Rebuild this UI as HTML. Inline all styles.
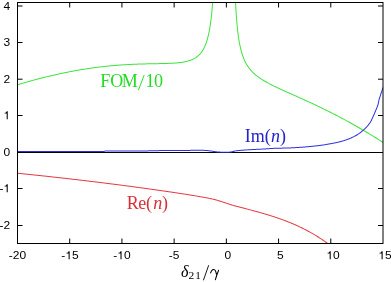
<!DOCTYPE html>
<html><head><meta charset="utf-8"><style>
html,body{margin:0;padding:0;background:#fff;}
svg{display:block;will-change:transform;}
.n{font-family:"Liberation Sans",sans-serif;font-size:11.4px;fill:#000;}
.s{font-family:"Liberation Serif",serif;font-size:18px;}
</style></head><body>
<svg width="391" height="282" viewBox="0 0 391 282">
<defs><clipPath id="c"><rect x="17.5" y="2.5" width="365.5" height="241"/></clipPath></defs>
<rect width="391" height="282" fill="#fff"/>
<g clip-path="url(#c)">
<path d="M16.15,85.73 L16.62,85.59 L17.10,85.44 L17.58,85.30 L18.06,85.15 L18.54,85.01 L19.02,84.86 L19.49,84.72 L19.97,84.58 L20.45,84.43 L20.93,84.29 L21.41,84.15 L21.89,84.01 L22.37,83.87 L22.85,83.73 L23.33,83.59 L23.81,83.45 L24.29,83.31 L24.77,83.17 L25.25,83.03 L25.73,82.89 L26.21,82.76 L26.69,82.62 L27.17,82.48 L27.65,82.35 L28.13,82.21 L28.61,82.07 L29.09,81.94 L29.57,81.80 L30.05,81.67 L30.53,81.53 L31.02,81.40 L31.50,81.27 L31.98,81.14 L32.46,81.00 L32.94,80.87 L33.42,80.74 L33.91,80.61 L34.39,80.48 L34.87,80.35 L35.35,80.22 L35.84,80.09 L36.32,79.96 L36.80,79.83 L37.28,79.70 L37.77,79.58 L38.25,79.45 L38.73,79.32 L39.22,79.20 L39.70,79.07 L40.18,78.95 L40.67,78.82 L41.15,78.70 L41.63,78.57 L42.12,78.45 L42.60,78.33 L43.09,78.20 L43.57,78.08 L44.06,77.96 L44.54,77.84 L45.03,77.72 L45.51,77.60 L45.99,77.48 L46.48,77.36 L46.97,77.24 L47.45,77.12 L47.94,77.00 L48.42,76.89 L48.91,76.77 L49.39,76.65 L49.88,76.54 L50.36,76.42 L50.85,76.31 L51.34,76.19 L51.82,76.08 L52.31,75.96 L52.80,75.85 L53.28,75.74 L53.77,75.63 L54.26,75.51 L54.74,75.40 L55.23,75.29 L55.72,75.18 L56.20,75.07 L56.69,74.96 L57.18,74.86 L57.67,74.75 L58.16,74.64 L58.64,74.53 L59.13,74.43 L59.62,74.32 L60.11,74.22 L60.60,74.11 L61.08,74.01 L61.57,73.90 L62.06,73.80 L62.55,73.70 L63.04,73.59 L63.53,73.49 L64.02,73.39 L64.51,73.29 L65.00,73.19 L65.48,73.09 L65.97,72.99 L66.46,72.89 L66.95,72.79 L67.44,72.70 L67.93,72.60 L68.42,72.50 L68.91,72.41 L69.40,72.31 L69.89,72.22 L70.38,72.12 L70.88,72.03 L71.37,71.93 L71.86,71.84 L72.35,71.75 L72.84,71.66 L73.33,71.57 L73.82,71.47 L74.31,71.38 L74.80,71.30 L75.29,71.21 L75.79,71.12 L76.28,71.03 L76.77,70.94 L77.26,70.86 L77.75,70.77 L78.25,70.68 L78.74,70.60 L79.23,70.52 L79.72,70.43 L80.21,70.35 L80.71,70.27 L81.20,70.18 L81.69,70.10 L82.19,70.02 L82.68,69.94 L83.17,69.86 L83.66,69.78 L84.16,69.70 L84.65,69.62 L85.14,69.55 L85.64,69.47 L86.13,69.39 L86.62,69.32 L87.12,69.24 L87.61,69.17 L88.11,69.09 L88.60,69.02 L89.09,68.95 L89.59,68.87 L90.08,68.80 L90.58,68.73 L91.07,68.66 L91.57,68.59 L92.06,68.52 L92.55,68.45 L93.05,68.38 L93.54,68.32 L94.04,68.25 L94.53,68.18 L95.03,68.12 L95.52,68.05 L96.02,67.99 L96.51,67.92 L97.01,67.86 L97.51,67.80 L98.00,67.73 L98.50,67.67 L98.99,67.61 L99.49,67.55 L99.98,67.49 L100.48,67.43 L100.98,67.37 L101.47,67.31 L101.97,67.26 L102.46,67.20 L102.96,67.14 L103.46,67.09 L103.95,67.03 L104.45,66.98 L104.95,66.92 L105.44,66.87 L105.94,66.82 L106.44,66.76 L106.93,66.71 L107.43,66.66 L107.93,66.61 L108.42,66.56 L108.92,66.51 L109.42,66.46 L109.91,66.42 L110.41,66.37 L110.91,66.32 L111.40,66.27 L111.90,66.23 L112.40,66.18 L112.90,66.14 L113.39,66.09 L113.89,66.05 L114.39,66.01 L114.89,65.97 L115.38,65.93 L115.88,65.88 L116.38,65.84 L116.88,65.80 L117.38,65.76 L117.87,65.73 L118.37,65.69 L118.87,65.65 L119.37,65.61 L119.87,65.58 L120.36,65.54 L120.86,65.51 L121.36,65.47 L121.86,65.44 L122.36,65.40 L122.86,65.37 L123.35,65.34 L123.85,65.31 L124.35,65.27 L124.85,65.24 L125.35,65.21 L125.85,65.18 L126.35,65.15 L126.84,65.12 L127.34,65.10 L127.84,65.07 L128.34,65.04 L128.84,65.02 L129.34,64.99 L129.84,64.96 L130.34,64.94 L130.83,64.91 L131.33,64.89 L131.83,64.87 L132.33,64.84 L132.83,64.82 L133.33,64.80 L133.83,64.78 L134.33,64.76 L134.83,64.74 L135.33,64.72 L135.82,64.70 L136.32,64.68 L136.82,64.66 L137.32,64.64 L137.82,64.62 L138.32,64.60 L138.82,64.59 L139.32,64.57 L139.82,64.55 L140.32,64.54 L140.82,64.52 L141.32,64.51 L141.82,64.49 L142.32,64.48 L142.81,64.46 L143.31,64.45 L143.81,64.44 L144.31,64.42 L144.81,64.41 L145.31,64.40 L145.81,64.39 L146.31,64.37 L146.81,64.36 L147.31,64.35 L147.81,64.34 L148.31,64.33 L148.81,64.32 L149.31,64.31 L149.81,64.30 L150.31,64.29 L150.81,64.28 L151.31,64.27 L151.81,64.26 L152.31,64.25 L152.81,64.24 L153.31,64.23 L153.81,64.22 L154.31,64.22 L154.81,64.21 L155.31,64.20 L155.81,64.19 L156.31,64.18 L156.81,64.17 L157.31,64.16 L157.81,64.15 L158.31,64.14 L158.81,64.13 L159.31,64.12 L159.81,64.11 L160.31,64.10 L160.81,64.09 L161.31,64.08 L161.81,64.07 L162.31,64.06 L162.81,64.05 L163.31,64.04 L163.81,64.03 L164.31,64.01 L164.81,64.00 L165.31,63.98 L165.81,63.97 L166.31,63.95 L166.81,63.94 L167.31,63.92 L167.81,63.90 L168.31,63.89 L168.81,63.87 L169.31,63.85 L169.81,63.83 L170.32,63.80 L170.82,63.78 L171.32,63.76 L171.82,63.73 L172.32,63.70 L172.82,63.67 L173.32,63.64 L173.82,63.61 L174.32,63.58 L174.82,63.54 L175.32,63.51 L175.82,63.47 L176.32,63.43 L176.82,63.38 L177.32,63.34 L177.82,63.29 L178.32,63.24 L178.82,63.19 L179.32,63.13 L179.82,63.07 L180.32,63.01 L180.82,62.95 L181.32,62.88 L181.82,62.81 L182.32,62.73 L182.81,62.65 L183.31,62.57 L183.81,62.48 L184.30,62.39 L184.80,62.30 L185.29,62.19 L185.79,62.09 L186.28,61.98 L186.77,61.86 L187.26,61.74 L187.75,61.61 L188.24,61.47 L188.73,61.33 L189.21,61.18 L189.70,61.03 L190.18,60.86 L190.65,60.69 L191.13,60.52 L191.60,60.33 L192.07,60.13 L192.54,59.93 L193.00,59.72 L193.46,59.50 L193.92,59.27 L194.37,59.03 L194.82,58.78 L195.25,58.52 L195.69,58.25 L196.12,57.97 L196.54,57.69 L196.96,57.39 L197.37,57.08 L197.77,56.77 L198.16,56.44 L198.55,56.11 L198.93,55.76 L199.30,55.41 L199.67,55.05 L200.02,54.68 L200.37,54.31 L200.71,53.93 L201.03,53.53 L201.36,53.14 L201.67,52.73 L201.97,52.33 L202.27,51.91 L202.56,51.49 L202.84,51.07 L203.11,50.64 L203.37,50.20 L203.63,49.76 L203.88,49.32 L204.12,48.88 L204.36,48.43 L204.59,47.97 L204.81,47.52 L205.03,47.06 L205.24,46.60 L205.44,46.14 L205.64,45.67 L205.83,45.20 L206.02,44.73 L206.20,44.26 L206.38,43.79 L206.55,43.32 L206.72,42.84 L206.89,42.36 L207.05,41.89 L207.20,41.41 L207.35,40.92 L207.50,40.44 L207.64,39.96 L207.78,39.48 L207.92,38.99 L208.06,38.51 L208.19,38.02 L208.31,37.53 L208.44,37.05 L208.56,36.56 L208.68,36.07 L208.79,35.58 L208.91,35.09 L209.02,34.60 L209.13,34.11 L209.23,33.62 L209.34,33.13 L209.44,32.64 L209.54,32.14 L209.63,31.65 L209.73,31.16 L209.82,30.67 L209.91,30.17 L210.00,29.68 L210.09,29.18 L210.18,28.69 L210.26,28.20 L210.34,27.70 L210.42,27.21 L210.50,26.71 L210.58,26.22 L210.66,25.72 L210.73,25.22 L210.81,24.73 L210.88,24.23 L210.95,23.74 L211.02,23.24 L211.09,22.74 L211.16,22.25 L211.22,21.75 L211.29,21.25 L211.35,20.76 L211.41,20.26 L211.48,19.76 L211.54,19.26 L211.60,18.77 L211.66,18.27 L211.71,17.77 L211.77,17.27 L211.83,16.78 L211.88,16.28 L211.94,15.78 L211.99,15.28 L212.04,14.78 L212.09,14.29 L212.15,13.79 L212.20,13.29 L212.25,12.79 L212.29,12.29 L212.34,11.79 L212.39,11.30 L212.44,10.80 L212.48,10.30 L212.53,9.80 L212.57,9.30 L212.62,8.80 L212.66,8.30 L212.70,7.81 L212.75,7.31 L212.79,6.81 L212.83,6.31 L212.87,5.81 L212.91,5.31 L212.95,4.81 L212.99,4.31 L213.03,3.81 L213.06,3.32 L213.10,2.82 L213.14,2.32 L213.17,1.82 L213.21,1.32 L213.25,0.82 L213.28,0.32 L213.32,-0.18 L213.35,-0.68 L213.37,-0.97 L212.37,-1.03 L212.35,-0.75 L212.32,-0.25 L212.28,0.25 L212.25,0.75 L212.21,1.25 L212.18,1.75 L212.14,2.24 L212.10,2.74 L212.07,3.24 L212.03,3.74 L211.99,4.24 L211.95,4.73 L211.91,5.23 L211.87,5.73 L211.83,6.23 L211.79,6.73 L211.75,7.22 L211.71,7.72 L211.66,8.22 L211.62,8.72 L211.58,9.21 L211.53,9.71 L211.49,10.21 L211.44,10.71 L211.39,11.20 L211.35,11.70 L211.30,12.20 L211.25,12.69 L211.20,13.19 L211.15,13.69 L211.10,14.18 L211.05,14.68 L211.00,15.18 L210.94,15.67 L210.89,16.17 L210.83,16.66 L210.78,17.16 L210.72,17.66 L210.66,18.15 L210.60,18.65 L210.54,19.14 L210.48,19.64 L210.42,20.13 L210.36,20.63 L210.30,21.12 L210.23,21.62 L210.17,22.11 L210.10,22.61 L210.03,23.10 L209.96,23.60 L209.89,24.09 L209.82,24.58 L209.74,25.08 L209.67,25.57 L209.59,26.06 L209.52,26.55 L209.44,27.05 L209.36,27.54 L209.27,28.03 L209.19,28.52 L209.11,29.01 L209.02,29.50 L208.93,29.99 L208.84,30.48 L208.75,30.97 L208.65,31.46 L208.56,31.95 L208.46,32.44 L208.36,32.92 L208.25,33.41 L208.15,33.90 L208.04,34.38 L207.93,34.87 L207.82,35.35 L207.71,35.84 L207.59,36.32 L207.47,36.80 L207.35,37.28 L207.22,37.77 L207.09,38.25 L206.96,38.72 L206.82,39.20 L206.69,39.68 L206.54,40.15 L206.40,40.63 L206.25,41.10 L206.10,41.57 L205.94,42.04 L205.78,42.51 L205.61,42.98 L205.44,43.44 L205.27,43.91 L205.09,44.37 L204.91,44.83 L204.72,45.28 L204.52,45.74 L204.32,46.19 L204.12,46.64 L203.91,47.09 L203.69,47.53 L203.47,47.97 L203.24,48.40 L203.00,48.84 L202.76,49.27 L202.51,49.69 L202.26,50.11 L202.00,50.52 L201.72,50.93 L201.45,51.34 L201.16,51.74 L200.87,52.13 L200.57,52.52 L200.26,52.90 L199.95,53.27 L199.62,53.64 L199.29,54.00 L198.95,54.35 L198.61,54.69 L198.25,55.03 L197.89,55.36 L197.52,55.68 L197.14,55.99 L196.76,56.29 L196.37,56.58 L195.97,56.87 L195.56,57.14 L195.16,57.41 L194.74,57.66 L194.32,57.91 L193.89,58.15 L193.46,58.38 L193.02,58.60 L192.58,58.81 L192.13,59.02 L191.68,59.21 L191.23,59.40 L190.77,59.58 L190.31,59.75 L189.85,59.92 L189.38,60.08 L188.91,60.23 L188.44,60.37 L187.97,60.51 L187.49,60.64 L187.01,60.77 L186.54,60.89 L186.05,61.00 L185.57,61.11 L185.09,61.21 L184.60,61.31 L184.12,61.41 L183.63,61.50 L183.14,61.58 L182.65,61.67 L182.16,61.74 L181.67,61.82 L181.18,61.89 L180.69,61.96 L180.20,62.02 L179.70,62.08 L179.21,62.14 L178.71,62.19 L178.22,62.24 L177.73,62.29 L177.23,62.34 L176.73,62.39 L176.24,62.43 L175.74,62.47 L175.25,62.51 L174.75,62.55 L174.25,62.58 L173.75,62.61 L173.26,62.65 L172.76,62.67 L172.26,62.70 L171.76,62.73 L171.27,62.76 L170.77,62.78 L170.27,62.80 L169.77,62.83 L169.27,62.85 L168.77,62.87 L168.28,62.89 L167.78,62.91 L167.28,62.92 L166.78,62.94 L166.28,62.96 L165.78,62.97 L165.28,62.99 L164.78,63.00 L164.28,63.01 L163.78,63.03 L163.28,63.04 L162.78,63.05 L162.29,63.06 L161.79,63.07 L161.29,63.08 L160.79,63.09 L160.29,63.10 L159.79,63.11 L159.29,63.12 L158.79,63.13 L158.29,63.14 L157.79,63.15 L157.29,63.16 L156.79,63.17 L156.29,63.18 L155.79,63.19 L155.29,63.20 L154.79,63.21 L154.29,63.22 L153.79,63.22 L153.29,63.23 L152.79,63.24 L152.29,63.25 L151.79,63.26 L151.29,63.27 L150.79,63.28 L150.29,63.29 L149.79,63.30 L149.29,63.31 L148.79,63.32 L148.29,63.33 L147.79,63.34 L147.29,63.35 L146.79,63.36 L146.29,63.38 L145.79,63.39 L145.29,63.40 L144.79,63.41 L144.29,63.42 L143.79,63.44 L143.29,63.45 L142.79,63.46 L142.29,63.48 L141.79,63.49 L141.29,63.51 L140.79,63.52 L140.29,63.54 L139.79,63.55 L139.29,63.57 L138.79,63.59 L138.29,63.60 L137.79,63.62 L137.29,63.64 L136.79,63.66 L136.29,63.68 L135.79,63.70 L135.29,63.72 L134.79,63.74 L134.29,63.76 L133.79,63.78 L133.29,63.80 L132.79,63.82 L132.29,63.84 L131.79,63.87 L131.29,63.89 L130.79,63.92 L130.29,63.94 L129.79,63.96 L129.29,63.99 L128.79,64.02 L128.29,64.04 L127.79,64.07 L127.29,64.10 L126.79,64.13 L126.29,64.16 L125.79,64.18 L125.29,64.21 L124.79,64.24 L124.29,64.28 L123.79,64.31 L123.29,64.34 L122.79,64.37 L122.29,64.40 L121.79,64.44 L121.29,64.47 L120.79,64.51 L120.29,64.54 L119.79,64.58 L119.29,64.62 L118.80,64.65 L118.30,64.69 L117.80,64.73 L117.30,64.77 L116.80,64.81 L116.30,64.85 L115.80,64.89 L115.30,64.93 L114.80,64.97 L114.30,65.01 L113.81,65.06 L113.31,65.10 L112.81,65.14 L112.31,65.19 L111.81,65.23 L111.31,65.28 L110.81,65.32 L110.32,65.37 L109.82,65.42 L109.32,65.47 L108.82,65.52 L108.32,65.57 L107.82,65.62 L107.33,65.67 L106.83,65.72 L106.33,65.77 L105.83,65.82 L105.34,65.87 L104.84,65.93 L104.34,65.98 L103.84,66.04 L103.34,66.09 L102.85,66.15 L102.35,66.21 L101.85,66.26 L101.36,66.32 L100.86,66.38 L100.36,66.44 L99.86,66.50 L99.37,66.56 L98.87,66.62 L98.37,66.68 L97.88,66.74 L97.38,66.80 L96.88,66.87 L96.39,66.93 L95.89,66.99 L95.39,67.06 L94.90,67.12 L94.40,67.19 L93.91,67.26 L93.41,67.32 L92.91,67.39 L92.42,67.46 L91.92,67.53 L91.43,67.60 L90.93,67.67 L90.43,67.74 L89.94,67.81 L89.44,67.88 L88.95,67.96 L88.45,68.03 L87.96,68.10 L87.46,68.18 L86.97,68.25 L86.47,68.33 L85.98,68.40 L85.48,68.48 L84.99,68.56 L84.49,68.64 L84.00,68.71 L83.51,68.79 L83.01,68.87 L82.52,68.95 L82.02,69.03 L81.53,69.11 L81.04,69.20 L80.54,69.28 L80.05,69.36 L79.55,69.45 L79.06,69.53 L78.57,69.61 L78.07,69.70 L77.58,69.79 L77.09,69.87 L76.60,69.96 L76.10,70.05 L75.61,70.13 L75.12,70.22 L74.62,70.31 L74.13,70.40 L73.64,70.49 L73.15,70.58 L72.66,70.67 L72.16,70.77 L71.67,70.86 L71.18,70.95 L70.69,71.04 L70.20,71.14 L69.70,71.23 L69.21,71.33 L68.72,71.42 L68.23,71.52 L67.74,71.62 L67.25,71.71 L66.76,71.81 L66.27,71.91 L65.78,72.01 L65.29,72.11 L64.80,72.21 L64.30,72.31 L63.81,72.41 L63.32,72.51 L62.83,72.61 L62.34,72.72 L61.85,72.82 L61.37,72.92 L60.88,73.03 L60.39,73.13 L59.90,73.24 L59.41,73.34 L58.92,73.45 L58.43,73.56 L57.94,73.66 L57.45,73.77 L56.96,73.88 L56.47,73.99 L55.99,74.10 L55.50,74.21 L55.01,74.32 L54.52,74.43 L54.03,74.54 L53.55,74.65 L53.06,74.76 L52.57,74.88 L52.08,74.99 L51.60,75.10 L51.11,75.22 L50.62,75.33 L50.13,75.45 L49.65,75.56 L49.16,75.68 L48.67,75.80 L48.19,75.91 L47.70,76.03 L47.21,76.15 L46.73,76.27 L46.24,76.39 L45.76,76.51 L45.27,76.63 L44.78,76.75 L44.30,76.87 L43.81,76.99 L43.33,77.11 L42.84,77.23 L42.36,77.36 L41.87,77.48 L41.39,77.60 L40.90,77.73 L40.42,77.85 L39.93,77.98 L39.45,78.10 L38.96,78.23 L38.48,78.35 L38.00,78.48 L37.51,78.61 L37.03,78.74 L36.54,78.87 L36.06,78.99 L35.58,79.12 L35.09,79.25 L34.61,79.38 L34.13,79.51 L33.64,79.64 L33.16,79.77 L32.68,79.91 L32.20,80.04 L31.71,80.17 L31.23,80.30 L30.75,80.44 L30.27,80.57 L29.78,80.71 L29.30,80.84 L28.82,80.98 L28.34,81.11 L27.86,81.25 L27.38,81.38 L26.89,81.52 L26.41,81.66 L25.93,81.79 L25.45,81.93 L24.97,82.07 L24.49,82.21 L24.01,82.35 L23.53,82.49 L23.05,82.63 L22.57,82.77 L22.09,82.91 L21.61,83.05 L21.13,83.19 L20.65,83.33 L20.17,83.48 L19.69,83.62 L19.21,83.76 L18.73,83.91 L18.25,84.05 L17.77,84.19 L17.29,84.34 L16.81,84.48 L16.33,84.63 L15.85,84.77Z" fill="#3ce43c"/>
<path d="M234.87,-0.98 L234.89,-0.48 L234.92,0.02 L234.94,0.52 L234.96,1.02 L234.99,1.52 L235.01,2.02 L235.04,2.52 L235.06,3.02 L235.09,3.52 L235.12,4.02 L235.14,4.52 L235.17,5.02 L235.20,5.52 L235.22,6.02 L235.25,6.52 L235.28,7.02 L235.31,7.52 L235.34,8.02 L235.37,8.52 L235.40,9.02 L235.43,9.52 L235.46,10.01 L235.49,10.51 L235.52,11.01 L235.55,11.51 L235.58,12.01 L235.61,12.51 L235.65,13.01 L235.68,13.51 L235.71,14.01 L235.75,14.51 L235.78,15.01 L235.82,15.51 L235.85,16.01 L235.89,16.51 L235.93,17.01 L235.96,17.50 L236.00,18.00 L236.04,18.50 L236.08,19.00 L236.12,19.50 L236.16,20.00 L236.20,20.50 L236.24,21.00 L236.28,21.50 L236.32,22.00 L236.37,22.49 L236.41,22.99 L236.45,23.49 L236.50,23.99 L236.54,24.49 L236.59,24.99 L236.64,25.49 L236.69,25.98 L236.73,26.48 L236.78,26.98 L236.83,27.48 L236.89,27.98 L236.94,28.48 L236.99,28.97 L237.04,29.47 L237.10,29.97 L237.15,30.47 L237.21,30.97 L237.27,31.46 L237.33,31.96 L237.39,32.46 L237.45,32.96 L237.51,33.45 L237.57,33.95 L237.64,34.45 L237.70,34.94 L237.77,35.44 L237.84,35.94 L237.90,36.43 L237.97,36.93 L238.05,37.43 L238.12,37.92 L238.19,38.42 L238.27,38.91 L238.35,39.41 L238.43,39.91 L238.51,40.40 L238.59,40.90 L238.67,41.39 L238.76,41.88 L238.84,42.38 L238.93,42.87 L239.02,43.37 L239.12,43.86 L239.21,44.35 L239.31,44.85 L239.41,45.34 L239.51,45.83 L239.61,46.32 L239.72,46.81 L239.82,47.30 L239.93,47.79 L240.05,48.28 L240.16,48.77 L240.28,49.26 L240.40,49.75 L240.52,50.24 L240.65,50.72 L240.78,51.21 L240.91,51.69 L241.05,52.18 L241.19,52.66 L241.33,53.15 L241.47,53.63 L241.62,54.11 L241.77,54.59 L241.93,55.07 L242.09,55.55 L242.25,56.02 L242.42,56.50 L242.59,56.97 L242.76,57.45 L242.95,57.92 L243.13,58.39 L243.32,58.86 L243.51,59.32 L243.71,59.79 L243.91,60.25 L244.12,60.71 L244.33,61.17 L244.55,61.63 L244.77,62.08 L245.00,62.53 L245.23,62.98 L245.47,63.43 L245.71,63.87 L245.96,64.31 L246.22,64.75 L246.47,65.18 L246.74,65.62 L247.01,66.04 L247.29,66.47 L247.57,66.89 L247.86,67.30 L248.15,67.72 L248.45,68.13 L248.75,68.53 L249.06,68.94 L249.37,69.33 L249.69,69.72 L250.02,70.11 L250.35,70.50 L250.68,70.88 L251.02,71.26 L251.37,71.63 L251.71,71.99 L252.07,72.36 L252.43,72.71 L252.79,73.07 L253.15,73.42 L253.52,73.76 L253.90,74.10 L254.27,74.44 L254.66,74.77 L255.04,75.10 L255.43,75.42 L255.82,75.74 L256.21,76.06 L256.61,76.37 L257.01,76.68 L257.41,76.98 L257.82,77.28 L258.23,77.58 L258.64,77.87 L259.05,78.16 L259.46,78.45 L259.88,78.73 L260.30,79.01 L260.72,79.29 L261.14,79.56 L261.57,79.83 L261.99,80.10 L262.42,80.36 L262.85,80.63 L263.28,80.89 L263.71,81.14 L264.14,81.40 L264.58,81.65 L265.01,81.90 L265.45,82.15 L265.89,82.40 L266.33,82.64 L266.77,82.89 L267.21,83.13 L267.65,83.37 L268.09,83.60 L268.53,83.84 L268.98,84.07 L269.42,84.31 L269.87,84.54 L270.31,84.77 L270.76,84.99 L271.21,85.22 L271.65,85.45 L272.10,85.67 L272.55,85.89 L273.00,86.12 L273.45,86.34 L273.90,86.56 L274.35,86.78 L274.80,86.99 L275.25,87.21 L275.71,87.43 L276.16,87.64 L276.61,87.86 L277.06,88.07 L277.52,88.29 L277.97,88.50 L278.42,88.71 L278.88,88.92 L279.33,89.13 L279.78,89.34 L280.24,89.55 L280.69,89.76 L281.15,89.97 L281.60,90.18 L282.06,90.39 L282.51,90.59 L282.97,90.80 L283.43,91.01 L283.88,91.22 L284.34,91.42 L284.79,91.63 L285.25,91.83 L285.70,92.04 L286.16,92.24 L286.62,92.45 L287.07,92.65 L287.53,92.86 L287.99,93.06 L288.44,93.27 L288.90,93.47 L289.36,93.68 L289.81,93.88 L290.27,94.08 L290.73,94.29 L291.18,94.49 L291.64,94.70 L292.10,94.90 L292.55,95.10 L293.01,95.31 L293.47,95.51 L293.92,95.71 L294.38,95.92 L294.83,96.12 L295.29,96.33 L295.75,96.53 L296.20,96.73 L296.66,96.94 L297.12,97.14 L297.57,97.35 L298.03,97.55 L298.48,97.76 L298.94,97.96 L299.40,98.17 L299.85,98.37 L300.31,98.58 L300.76,98.78 L301.22,98.99 L301.67,99.19 L302.13,99.40 L302.59,99.61 L303.04,99.81 L303.50,100.02 L303.95,100.22 L304.41,100.43 L304.86,100.64 L305.32,100.85 L305.77,101.05 L306.22,101.26 L306.68,101.47 L307.13,101.68 L307.59,101.89 L308.04,102.10 L308.49,102.30 L308.95,102.51 L309.40,102.72 L309.86,102.93 L310.31,103.14 L310.76,103.35 L311.22,103.56 L311.67,103.78 L312.12,103.99 L312.57,104.20 L313.03,104.41 L313.48,104.62 L313.93,104.83 L314.38,105.05 L314.84,105.26 L315.29,105.47 L315.74,105.69 L316.19,105.90 L316.64,106.12 L317.09,106.33 L317.54,106.55 L317.99,106.76 L318.45,106.98 L318.90,107.19 L319.35,107.41 L319.80,107.62 L320.25,107.84 L320.70,108.06 L321.15,108.28 L321.60,108.49 L322.05,108.71 L322.49,108.93 L322.94,109.15 L323.39,109.37 L323.84,109.59 L324.29,109.81 L324.74,110.03 L325.19,110.25 L325.63,110.47 L326.08,110.69 L326.53,110.92 L326.98,111.14 L327.42,111.36 L327.87,111.58 L328.32,111.81 L328.77,112.03 L329.21,112.25 L329.66,112.48 L330.10,112.70 L330.55,112.93 L331.00,113.15 L331.44,113.38 L331.89,113.61 L332.33,113.83 L332.78,114.06 L333.22,114.29 L333.67,114.51 L334.11,114.74 L334.56,114.97 L335.00,115.20 L335.44,115.43 L335.89,115.66 L336.33,115.89 L336.77,116.12 L337.22,116.35 L337.66,116.58 L338.10,116.81 L338.54,117.04 L338.99,117.28 L339.43,117.51 L339.87,117.74 L340.31,117.98 L340.75,118.21 L341.20,118.44 L341.64,118.68 L342.08,118.91 L342.52,119.15 L342.96,119.39 L343.40,119.62 L343.84,119.86 L344.28,120.09 L344.72,120.33 L345.16,120.57 L345.60,120.81 L346.04,121.05 L346.47,121.29 L346.91,121.52 L347.35,121.76 L347.79,122.00 L348.23,122.24 L348.67,122.48 L349.10,122.73 L349.54,122.97 L349.98,123.21 L350.41,123.45 L350.85,123.69 L351.29,123.94 L351.72,124.18 L352.16,124.43 L352.59,124.67 L353.03,124.91 L353.47,125.16 L353.90,125.40 L354.34,125.65 L354.77,125.90 L355.20,126.14 L355.64,126.39 L356.07,126.64 L356.51,126.88 L356.94,127.13 L357.37,127.38 L357.81,127.63 L358.24,127.88 L358.67,128.13 L359.11,128.38 L359.54,128.63 L359.97,128.88 L360.40,129.13 L360.83,129.38 L361.26,129.63 L361.70,129.89 L362.13,130.14 L362.56,130.39 L362.99,130.65 L363.42,130.90 L363.85,131.15 L364.28,131.41 L364.71,131.66 L365.14,131.92 L365.57,132.17 L366.00,132.43 L366.42,132.69 L366.85,132.94 L367.28,133.20 L367.71,133.46 L368.14,133.72 L368.56,133.97 L368.99,134.23 L369.42,134.49 L369.85,134.75 L370.27,135.01 L370.70,135.27 L371.13,135.53 L371.55,135.79 L371.98,136.05 L372.40,136.32 L372.83,136.58 L373.25,136.84 L373.68,137.10 L374.10,137.37 L374.53,137.63 L374.95,137.89 L375.38,138.16 L375.80,138.42 L376.22,138.69 L376.65,138.95 L377.07,139.22 L377.49,139.48 L377.91,139.75 L378.34,140.02 L378.76,140.28 L379.18,140.55 L379.60,140.82 L380.02,141.09 L380.45,141.36 L380.87,141.63 L381.29,141.90 L381.71,142.16 L382.13,142.43 L382.55,142.71 L382.97,142.98 L383.39,143.25 L383.73,143.47 L384.27,142.63 L383.93,142.41 L383.51,142.14 L383.09,141.86 L382.67,141.59 L382.25,141.32 L381.83,141.05 L381.40,140.78 L380.98,140.51 L380.56,140.24 L380.14,139.98 L379.72,139.71 L379.29,139.44 L378.87,139.17 L378.45,138.91 L378.02,138.64 L377.60,138.37 L377.18,138.11 L376.75,137.84 L376.33,137.57 L375.90,137.31 L375.48,137.04 L375.05,136.78 L374.63,136.52 L374.20,136.25 L373.78,135.99 L373.35,135.73 L372.93,135.46 L372.50,135.20 L372.07,134.94 L371.65,134.68 L371.22,134.42 L370.79,134.16 L370.37,133.90 L369.94,133.64 L369.51,133.38 L369.08,133.12 L368.65,132.86 L368.22,132.60 L367.80,132.34 L367.37,132.09 L366.94,131.83 L366.51,131.57 L366.08,131.32 L365.65,131.06 L365.22,130.80 L364.79,130.55 L364.36,130.29 L363.93,130.04 L363.50,129.78 L363.06,129.53 L362.63,129.28 L362.20,129.02 L361.77,128.77 L361.34,128.52 L360.90,128.27 L360.47,128.02 L360.04,127.76 L359.61,127.51 L359.17,127.26 L358.74,127.01 L358.31,126.76 L357.87,126.51 L357.44,126.27 L357.00,126.02 L356.57,125.77 L356.13,125.52 L355.70,125.27 L355.26,125.03 L354.83,124.78 L354.39,124.53 L353.96,124.29 L353.52,124.04 L353.08,123.80 L352.65,123.55 L352.21,123.31 L351.77,123.06 L351.34,122.82 L350.90,122.58 L350.46,122.33 L350.02,122.09 L349.59,121.85 L349.15,121.61 L348.71,121.37 L348.27,121.13 L347.83,120.89 L347.39,120.65 L346.95,120.41 L346.51,120.17 L346.07,119.93 L345.63,119.69 L345.19,119.45 L344.75,119.21 L344.31,118.98 L343.87,118.74 L343.43,118.50 L342.99,118.27 L342.55,118.03 L342.11,117.80 L341.66,117.56 L341.22,117.33 L340.78,117.09 L340.34,116.86 L339.90,116.63 L339.45,116.39 L339.01,116.16 L338.57,115.93 L338.12,115.70 L337.68,115.46 L337.24,115.23 L336.79,115.00 L336.35,114.77 L335.90,114.54 L335.46,114.31 L335.01,114.08 L334.57,113.85 L334.12,113.62 L333.68,113.40 L333.23,113.17 L332.79,112.94 L332.34,112.71 L331.89,112.49 L331.45,112.26 L331.00,112.04 L330.55,111.81 L330.11,111.59 L329.66,111.36 L329.21,111.14 L328.77,110.91 L328.32,110.69 L327.87,110.46 L327.42,110.24 L326.97,110.02 L326.53,109.80 L326.08,109.58 L325.63,109.35 L325.18,109.13 L324.73,108.91 L324.28,108.69 L323.83,108.47 L323.38,108.25 L322.93,108.03 L322.48,107.81 L322.03,107.59 L321.58,107.38 L321.13,107.16 L320.68,106.94 L320.23,106.72 L319.78,106.51 L319.33,106.29 L318.88,106.07 L318.43,105.86 L317.97,105.64 L317.52,105.43 L317.07,105.21 L316.62,105.00 L316.17,104.78 L315.71,104.57 L315.26,104.36 L314.81,104.14 L314.36,103.93 L313.90,103.72 L313.45,103.50 L313.00,103.29 L312.54,103.08 L312.09,102.87 L311.64,102.66 L311.18,102.45 L310.73,102.24 L310.28,102.03 L309.82,101.82 L309.37,101.61 L308.91,101.40 L308.46,101.19 L308.00,100.98 L307.55,100.77 L307.10,100.56 L306.64,100.35 L306.19,100.14 L305.73,99.94 L305.28,99.73 L304.82,99.52 L304.36,99.31 L303.91,99.11 L303.45,98.90 L303.00,98.69 L302.54,98.49 L302.09,98.28 L301.63,98.08 L301.17,97.87 L300.72,97.66 L300.26,97.46 L299.81,97.25 L299.35,97.05 L298.89,96.84 L298.44,96.64 L297.98,96.43 L297.53,96.23 L297.07,96.03 L296.61,95.82 L296.16,95.62 L295.70,95.41 L295.24,95.21 L294.79,95.01 L294.33,94.80 L293.87,94.60 L293.42,94.39 L292.96,94.19 L292.50,93.99 L292.05,93.78 L291.59,93.58 L291.13,93.37 L290.68,93.17 L290.22,92.97 L289.76,92.76 L289.31,92.56 L288.85,92.35 L288.40,92.15 L287.94,91.95 L287.48,91.74 L287.03,91.54 L286.57,91.33 L286.12,91.13 L285.66,90.92 L285.20,90.72 L284.75,90.51 L284.29,90.30 L283.84,90.10 L283.38,89.89 L282.93,89.68 L282.47,89.48 L282.02,89.27 L281.57,89.06 L281.11,88.85 L280.66,88.64 L280.20,88.44 L279.75,88.23 L279.30,88.02 L278.85,87.80 L278.39,87.59 L277.94,87.38 L277.49,87.17 L277.04,86.95 L276.59,86.74 L276.14,86.53 L275.69,86.31 L275.24,86.09 L274.79,85.88 L274.34,85.66 L273.89,85.44 L273.44,85.22 L273.00,85.00 L272.55,84.78 L272.10,84.55 L271.66,84.33 L271.21,84.10 L270.77,83.88 L270.33,83.65 L269.88,83.42 L269.44,83.19 L269.00,82.95 L268.56,82.72 L268.12,82.49 L267.68,82.25 L267.25,82.01 L266.81,81.77 L266.38,81.53 L265.94,81.28 L265.51,81.04 L265.08,80.79 L264.65,80.54 L264.22,80.28 L263.79,80.03 L263.37,79.77 L262.95,79.51 L262.52,79.25 L262.10,78.99 L261.68,78.72 L261.27,78.45 L260.85,78.18 L260.44,77.90 L260.03,77.62 L259.62,77.34 L259.22,77.05 L258.81,76.77 L258.41,76.47 L258.01,76.18 L257.62,75.88 L257.22,75.58 L256.84,75.27 L256.45,74.96 L256.06,74.65 L255.69,74.33 L255.31,74.01 L254.94,73.69 L254.57,73.36 L254.20,73.03 L253.84,72.69 L253.48,72.35 L253.13,72.00 L252.78,71.65 L252.44,71.30 L252.10,70.94 L251.76,70.58 L251.43,70.21 L251.10,69.84 L250.78,69.47 L250.47,69.09 L250.15,68.71 L249.85,68.32 L249.55,67.93 L249.25,67.53 L248.96,67.14 L248.68,66.73 L248.40,66.33 L248.12,65.92 L247.85,65.50 L247.59,65.09 L247.33,64.67 L247.08,64.24 L246.83,63.81 L246.59,63.38 L246.35,62.95 L246.12,62.51 L245.89,62.08 L245.67,61.63 L245.45,61.19 L245.24,60.74 L245.03,60.30 L244.82,59.84 L244.63,59.39 L244.43,58.94 L244.24,58.48 L244.06,58.02 L243.88,57.56 L243.70,57.09 L243.53,56.63 L243.36,56.16 L243.20,55.70 L243.04,55.23 L242.88,54.76 L242.72,54.28 L242.57,53.81 L242.43,53.34 L242.28,52.86 L242.15,52.39 L242.01,51.91 L241.87,51.43 L241.75,50.95 L241.62,50.47 L241.49,49.99 L241.37,49.51 L241.25,49.02 L241.13,48.54 L241.02,48.06 L240.91,47.57 L240.80,47.09 L240.69,46.60 L240.59,46.11 L240.49,45.63 L240.39,45.14 L240.29,44.65 L240.19,44.16 L240.10,43.67 L240.01,43.18 L239.92,42.69 L239.83,42.20 L239.74,41.71 L239.66,41.22 L239.57,40.73 L239.49,40.24 L239.41,39.75 L239.33,39.25 L239.26,38.76 L239.18,38.27 L239.11,37.78 L239.04,37.28 L238.96,36.79 L238.89,36.30 L238.83,35.80 L238.76,35.31 L238.69,34.81 L238.63,34.32 L238.56,33.82 L238.50,33.33 L238.44,32.83 L238.38,32.34 L238.32,31.84 L238.26,31.35 L238.20,30.85 L238.15,30.36 L238.09,29.86 L238.04,29.36 L237.98,28.87 L237.93,28.37 L237.88,27.87 L237.83,27.38 L237.78,26.88 L237.73,26.38 L237.68,25.89 L237.63,25.39 L237.59,24.89 L237.54,24.40 L237.49,23.90 L237.45,23.40 L237.41,22.90 L237.36,22.41 L237.32,21.91 L237.28,21.41 L237.23,20.91 L237.19,20.42 L237.15,19.92 L237.11,19.42 L237.07,18.92 L237.04,18.43 L237.00,17.93 L236.96,17.43 L236.92,16.93 L236.89,16.43 L236.85,15.94 L236.81,15.44 L236.78,14.94 L236.75,14.44 L236.71,13.94 L236.68,13.44 L236.64,12.95 L236.61,12.45 L236.58,11.95 L236.55,11.45 L236.52,10.95 L236.48,10.45 L236.45,9.95 L236.42,9.46 L236.39,8.96 L236.36,8.46 L236.34,7.96 L236.31,7.46 L236.28,6.96 L236.25,6.46 L236.22,5.96 L236.20,5.46 L236.17,4.97 L236.14,4.47 L236.12,3.97 L236.09,3.47 L236.06,2.97 L236.04,2.47 L236.01,1.97 L235.99,1.47 L235.96,0.97 L235.94,0.47 L235.91,-0.02 L235.89,-0.52 L235.87,-1.02Z" fill="#3ce43c"/>
<path d="M15.95,173.58 L16.45,173.63 L16.94,173.68 L17.44,173.73 L17.94,173.78 L18.44,173.83 L18.93,173.88 L19.43,173.93 L19.93,173.98 L20.43,174.03 L20.92,174.08 L21.42,174.14 L21.92,174.19 L22.42,174.24 L22.91,174.29 L23.41,174.34 L23.91,174.39 L24.40,174.44 L24.90,174.49 L25.40,174.55 L25.90,174.60 L26.39,174.65 L26.89,174.70 L27.39,174.75 L27.89,174.80 L28.38,174.86 L28.88,174.91 L29.38,174.96 L29.87,175.01 L30.37,175.06 L30.87,175.11 L31.37,175.17 L31.86,175.22 L32.36,175.27 L32.86,175.32 L33.35,175.38 L33.85,175.43 L34.35,175.48 L34.85,175.53 L35.34,175.59 L35.84,175.64 L36.34,175.69 L36.84,175.74 L37.33,175.80 L37.83,175.85 L38.33,175.90 L38.82,175.96 L39.32,176.01 L39.82,176.06 L40.31,176.12 L40.81,176.17 L41.31,176.22 L41.81,176.28 L42.30,176.33 L42.80,176.38 L43.30,176.44 L43.79,176.49 L44.29,176.54 L44.79,176.60 L45.29,176.65 L45.78,176.70 L46.28,176.76 L46.78,176.81 L47.27,176.87 L47.77,176.92 L48.27,176.98 L48.76,177.03 L49.26,177.08 L49.76,177.14 L50.26,177.19 L50.75,177.25 L51.25,177.30 L51.75,177.36 L52.24,177.41 L52.74,177.47 L53.24,177.52 L53.73,177.58 L54.23,177.63 L54.73,177.69 L55.22,177.74 L55.72,177.80 L56.22,177.85 L56.72,177.91 L57.21,177.96 L57.71,178.02 L58.21,178.07 L58.70,178.13 L59.20,178.18 L59.70,178.24 L60.19,178.29 L60.69,178.35 L61.19,178.41 L61.68,178.46 L62.18,178.52 L62.68,178.57 L63.17,178.63 L63.67,178.69 L64.17,178.74 L64.66,178.80 L65.16,178.86 L65.66,178.91 L66.15,178.97 L66.65,179.02 L67.15,179.08 L67.64,179.14 L68.14,179.19 L68.64,179.25 L69.13,179.31 L69.63,179.37 L70.13,179.42 L70.62,179.48 L71.12,179.54 L71.62,179.59 L72.11,179.65 L72.61,179.71 L73.11,179.77 L73.60,179.82 L74.10,179.88 L74.60,179.94 L75.09,180.00 L75.59,180.05 L76.09,180.11 L76.58,180.17 L77.08,180.23 L77.58,180.29 L78.07,180.34 L78.57,180.40 L79.07,180.46 L79.56,180.52 L80.06,180.58 L80.56,180.64 L81.05,180.69 L81.55,180.75 L82.05,180.81 L82.54,180.87 L83.04,180.93 L83.54,180.99 L84.03,181.05 L84.53,181.11 L85.02,181.16 L85.52,181.22 L86.02,181.28 L86.51,181.34 L87.01,181.40 L87.51,181.46 L88.00,181.52 L88.50,181.58 L89.00,181.64 L89.49,181.70 L89.99,181.76 L90.48,181.82 L90.98,181.88 L91.48,181.94 L91.97,182.00 L92.47,182.06 L92.97,182.12 L93.46,182.18 L93.96,182.24 L94.45,182.30 L94.95,182.36 L95.45,182.42 L95.94,182.48 L96.44,182.54 L96.94,182.60 L97.43,182.67 L97.93,182.73 L98.42,182.79 L98.92,182.85 L99.42,182.91 L99.91,182.97 L100.41,183.03 L100.91,183.09 L101.40,183.15 L101.90,183.22 L102.39,183.28 L102.89,183.34 L103.39,183.40 L103.88,183.46 L104.38,183.53 L104.87,183.59 L105.37,183.65 L105.87,183.71 L106.36,183.77 L106.86,183.84 L107.35,183.90 L107.85,183.96 L108.35,184.02 L108.84,184.09 L109.34,184.15 L109.83,184.21 L110.33,184.27 L110.83,184.34 L111.32,184.40 L111.82,184.46 L112.31,184.53 L112.81,184.59 L113.31,184.65 L113.80,184.72 L114.30,184.78 L114.79,184.84 L115.29,184.91 L115.79,184.97 L116.28,185.03 L116.78,185.10 L117.27,185.16 L117.77,185.23 L118.26,185.29 L118.76,185.35 L119.26,185.42 L119.75,185.48 L120.25,185.55 L120.74,185.61 L121.24,185.67 L121.73,185.74 L122.23,185.80 L122.73,185.87 L123.22,185.93 L123.72,186.00 L124.21,186.06 L124.71,186.13 L125.20,186.19 L125.70,186.26 L126.20,186.32 L126.69,186.39 L127.19,186.46 L127.68,186.52 L128.18,186.59 L128.67,186.65 L129.17,186.72 L129.67,186.78 L130.16,186.85 L130.66,186.92 L131.15,186.98 L131.65,187.05 L132.14,187.11 L132.64,187.18 L133.13,187.25 L133.63,187.31 L134.12,187.38 L134.62,187.45 L135.12,187.51 L135.61,187.58 L136.11,187.65 L136.60,187.71 L137.10,187.78 L137.59,187.85 L138.09,187.91 L138.58,187.98 L139.08,188.05 L139.57,188.12 L140.07,188.18 L140.56,188.25 L141.06,188.32 L141.56,188.39 L142.05,188.46 L142.55,188.52 L143.04,188.59 L143.54,188.66 L144.03,188.73 L144.53,188.80 L145.02,188.86 L145.52,188.93 L146.01,189.00 L146.51,189.07 L147.00,189.14 L147.50,189.21 L147.99,189.28 L148.49,189.35 L148.98,189.41 L149.48,189.48 L149.97,189.55 L150.47,189.62 L150.96,189.69 L151.46,189.76 L151.95,189.83 L152.45,189.90 L152.94,189.97 L153.44,190.04 L153.93,190.11 L154.43,190.18 L154.92,190.25 L155.42,190.32 L155.91,190.39 L156.41,190.46 L156.90,190.53 L157.40,190.60 L157.89,190.67 L158.39,190.74 L158.88,190.81 L159.38,190.88 L159.87,190.95 L160.37,191.03 L160.86,191.10 L161.36,191.17 L161.85,191.24 L162.35,191.31 L162.84,191.38 L163.34,191.45 L163.83,191.52 L164.33,191.60 L164.82,191.67 L165.32,191.74 L165.81,191.81 L166.31,191.88 L166.80,191.96 L167.29,192.03 L167.79,192.10 L168.28,192.17 L168.78,192.25 L169.27,192.32 L169.77,192.39 L170.26,192.46 L170.76,192.54 L171.25,192.61 L171.75,192.68 L172.24,192.76 L172.74,192.83 L173.23,192.90 L173.72,192.97 L174.22,193.05 L174.71,193.12 L175.21,193.20 L175.70,193.27 L176.20,193.34 L176.69,193.42 L177.19,193.49 L177.68,193.57 L178.17,193.64 L178.67,193.71 L179.16,193.79 L179.66,193.86 L180.15,193.94 L180.65,194.01 L181.14,194.09 L181.63,194.16 L182.13,194.24 L182.62,194.31 L183.12,194.39 L183.61,194.47 L184.10,194.54 L184.60,194.62 L185.09,194.70 L185.58,194.77 L186.08,194.85 L186.57,194.93 L187.07,195.01 L187.56,195.08 L188.05,195.16 L188.55,195.24 L189.04,195.32 L189.53,195.40 L190.03,195.48 L190.52,195.56 L191.01,195.64 L191.51,195.72 L192.00,195.80 L192.49,195.88 L192.99,195.96 L193.48,196.04 L193.97,196.12 L194.46,196.20 L194.96,196.29 L195.45,196.37 L195.94,196.45 L196.44,196.54 L196.93,196.62 L197.42,196.71 L197.91,196.79 L198.41,196.88 L198.90,196.96 L199.39,197.05 L199.88,197.13 L200.37,197.22 L200.87,197.31 L201.36,197.39 L201.85,197.48 L202.34,197.57 L202.83,197.66 L203.32,197.75 L203.81,197.84 L204.31,197.93 L204.80,198.02 L205.29,198.11 L205.78,198.20 L206.27,198.30 L206.76,198.39 L207.25,198.48 L207.74,198.58 L208.23,198.68 L208.72,198.77 L209.21,198.87 L209.70,198.97 L210.18,199.08 L210.67,199.18 L211.16,199.28 L211.64,199.39 L212.13,199.50 L212.61,199.61 L213.10,199.72 L213.58,199.84 L214.07,199.96 L214.55,200.08 L215.03,200.20 L215.51,200.33 L215.99,200.45 L216.47,200.59 L216.95,200.72 L217.43,200.86 L217.91,200.99 L218.38,201.14 L218.86,201.28 L219.34,201.43 L219.81,201.57 L220.29,201.72 L220.76,201.88 L221.24,202.03 L221.71,202.18 L222.18,202.34 L222.66,202.49 L223.13,202.65 L223.61,202.81 L224.08,202.97 L224.55,203.13 L225.03,203.28 L225.50,203.44 L225.98,203.60 L226.45,203.76 L226.93,203.92 L227.40,204.08 L227.88,204.23 L228.35,204.39 L228.83,204.55 L229.31,204.70 L229.78,204.85 L230.26,205.00 L230.74,205.15 L231.22,205.30 L231.70,205.45 L232.18,205.59 L232.66,205.73 L233.15,205.87 L233.63,206.01 L234.11,206.15 L234.59,206.28 L235.08,206.42 L235.56,206.55 L236.04,206.68 L236.53,206.81 L237.01,206.94 L237.49,207.07 L237.98,207.20 L238.46,207.33 L238.95,207.46 L239.43,207.58 L239.91,207.71 L240.40,207.84 L240.88,207.96 L241.37,208.09 L241.85,208.21 L242.34,208.34 L242.82,208.46 L243.30,208.59 L243.79,208.71 L244.27,208.84 L244.75,208.96 L245.24,209.09 L245.72,209.22 L246.21,209.34 L246.69,209.47 L247.17,209.59 L247.66,209.72 L248.14,209.85 L248.62,209.97 L249.11,210.10 L249.59,210.23 L250.07,210.36 L250.56,210.48 L251.04,210.61 L251.52,210.74 L252.01,210.87 L252.49,211.00 L252.97,211.13 L253.45,211.26 L253.94,211.39 L254.42,211.52 L254.90,211.65 L255.38,211.78 L255.86,211.91 L256.35,212.04 L256.83,212.17 L257.31,212.31 L257.79,212.44 L258.27,212.57 L258.75,212.71 L259.23,212.84 L259.72,212.98 L260.20,213.11 L260.68,213.25 L261.16,213.38 L261.64,213.52 L262.12,213.66 L262.60,213.80 L263.08,213.94 L263.56,214.07 L264.04,214.21 L264.52,214.35 L264.99,214.50 L265.47,214.64 L265.95,214.78 L266.43,214.92 L266.91,215.07 L267.39,215.21 L267.86,215.36 L268.34,215.50 L268.82,215.65 L269.30,215.80 L269.77,215.94 L270.25,216.09 L270.73,216.24 L271.20,216.39 L271.68,216.54 L272.15,216.69 L272.63,216.85 L273.10,217.00 L273.58,217.15 L274.05,217.31 L274.53,217.47 L275.00,217.62 L275.47,217.78 L275.95,217.94 L276.42,218.10 L276.89,218.26 L277.37,218.42 L277.84,218.58 L278.31,218.74 L278.78,218.91 L279.25,219.07 L279.72,219.24 L280.19,219.41 L280.66,219.57 L281.13,219.74 L281.60,219.91 L282.07,220.08 L282.54,220.25 L283.01,220.43 L283.47,220.60 L283.94,220.77 L284.41,220.95 L284.88,221.13 L285.34,221.30 L285.81,221.48 L286.27,221.66 L286.74,221.84 L287.20,222.02 L287.67,222.21 L288.13,222.39 L288.59,222.58 L289.06,222.76 L289.52,222.95 L289.98,223.14 L290.44,223.33 L290.90,223.52 L291.36,223.71 L291.82,223.90 L292.28,224.10 L292.74,224.29 L293.20,224.49 L293.66,224.69 L294.11,224.89 L294.57,225.09 L295.03,225.29 L295.48,225.49 L295.94,225.69 L296.39,225.90 L296.85,226.10 L297.30,226.31 L297.75,226.52 L298.21,226.73 L298.66,226.94 L299.11,227.15 L299.56,227.36 L300.01,227.58 L300.46,227.79 L300.91,228.01 L301.36,228.23 L301.81,228.45 L302.25,228.67 L302.70,228.89 L303.15,229.11 L303.59,229.34 L304.04,229.56 L304.48,229.79 L304.93,230.01 L305.37,230.24 L305.81,230.47 L306.25,230.71 L306.69,230.94 L307.13,231.17 L307.57,231.41 L308.01,231.64 L308.45,231.88 L308.89,232.12 L309.32,232.36 L309.76,232.60 L310.20,232.84 L310.63,233.09 L311.07,233.33 L311.50,233.58 L311.93,233.83 L312.36,234.08 L312.79,234.33 L313.22,234.58 L313.66,234.83 L314.08,235.08 L314.51,235.34 L314.94,235.60 L315.37,235.85 L315.79,236.11 L316.22,236.37 L316.64,236.63 L317.07,236.90 L317.49,237.16 L317.91,237.43 L318.33,237.69 L318.75,237.96 L319.17,238.23 L319.59,238.50 L320.01,238.77 L320.43,239.04 L320.85,239.31 L321.26,239.59 L321.68,239.87 L322.09,240.14 L322.51,240.42 L322.92,240.70 L323.33,240.98 L323.74,241.26 L324.15,241.55 L324.56,241.83 L324.97,242.12 L325.38,242.40 L325.78,242.69 L326.19,242.98 L326.60,243.27 L327.00,243.56 L327.40,243.85 L327.81,244.15 L328.21,244.44 L328.61,244.74 L329.01,245.04 L329.41,245.33 L329.70,245.55 L330.30,244.75 L330.01,244.53 L329.61,244.23 L329.21,243.93 L328.80,243.64 L328.40,243.34 L327.99,243.04 L327.59,242.75 L327.18,242.46 L326.77,242.17 L326.36,241.87 L325.95,241.59 L325.54,241.30 L325.13,241.01 L324.72,240.72 L324.31,240.44 L323.89,240.16 L323.48,239.87 L323.06,239.59 L322.65,239.31 L322.23,239.03 L321.81,238.76 L321.40,238.48 L320.98,238.20 L320.56,237.93 L320.14,237.66 L319.71,237.39 L319.29,237.12 L318.87,236.85 L318.44,236.58 L318.02,236.31 L317.59,236.05 L317.17,235.78 L316.74,235.52 L316.31,235.26 L315.88,235.00 L315.46,234.74 L315.03,234.48 L314.59,234.23 L314.16,233.97 L313.73,233.72 L313.30,233.46 L312.86,233.21 L312.43,232.96 L311.99,232.71 L311.56,232.46 L311.12,232.22 L310.68,231.97 L310.25,231.73 L309.81,231.48 L309.37,231.24 L308.93,231.00 L308.49,230.76 L308.05,230.53 L307.60,230.29 L307.16,230.05 L306.72,229.82 L306.27,229.59 L305.83,229.36 L305.38,229.13 L304.94,228.90 L304.49,228.67 L304.04,228.44 L303.60,228.22 L303.15,227.99 L302.70,227.77 L302.25,227.55 L301.80,227.33 L301.35,227.11 L300.89,226.89 L300.44,226.68 L299.99,226.46 L299.54,226.25 L299.08,226.03 L298.63,225.82 L298.17,225.61 L297.72,225.40 L297.26,225.19 L296.80,224.99 L296.35,224.78 L295.89,224.58 L295.43,224.37 L294.97,224.17 L294.51,223.97 L294.05,223.77 L293.59,223.57 L293.13,223.37 L292.67,223.18 L292.21,222.98 L291.75,222.79 L291.29,222.60 L290.82,222.40 L290.36,222.21 L289.89,222.02 L289.43,221.84 L288.97,221.65 L288.50,221.46 L288.03,221.28 L287.57,221.09 L287.10,220.91 L286.63,220.73 L286.17,220.55 L285.70,220.37 L285.23,220.19 L284.76,220.01 L284.29,219.84 L283.82,219.66 L283.35,219.49 L282.88,219.31 L282.41,219.14 L281.94,218.97 L281.47,218.80 L281.00,218.63 L280.53,218.46 L280.06,218.30 L279.58,218.13 L279.11,217.96 L278.64,217.80 L278.16,217.64 L277.69,217.47 L277.22,217.31 L276.74,217.15 L276.27,216.99 L275.79,216.83 L275.32,216.67 L274.84,216.52 L274.36,216.36 L273.89,216.20 L273.41,216.05 L272.93,215.90 L272.46,215.74 L271.98,215.59 L271.50,215.44 L271.03,215.29 L270.55,215.14 L270.07,214.99 L269.59,214.84 L269.11,214.69 L268.63,214.55 L268.16,214.40 L267.68,214.25 L267.20,214.11 L266.72,213.97 L266.24,213.82 L265.76,213.68 L265.28,213.54 L264.80,213.40 L264.32,213.25 L263.84,213.11 L263.36,212.97 L262.88,212.84 L262.39,212.70 L261.91,212.56 L261.43,212.42 L260.95,212.29 L260.47,212.15 L259.99,212.01 L259.50,211.88 L259.02,211.74 L258.54,211.61 L258.06,211.48 L257.58,211.34 L257.09,211.21 L256.61,211.08 L256.13,210.94 L255.65,210.81 L255.16,210.68 L254.68,210.55 L254.20,210.42 L253.71,210.29 L253.23,210.16 L252.75,210.03 L252.26,209.90 L251.78,209.77 L251.30,209.65 L250.81,209.52 L250.33,209.39 L249.85,209.26 L249.36,209.13 L248.88,209.01 L248.39,208.88 L247.91,208.75 L247.43,208.63 L246.94,208.50 L246.46,208.37 L245.97,208.25 L245.49,208.12 L245.01,208.00 L244.52,207.87 L244.04,207.74 L243.55,207.62 L243.07,207.49 L242.59,207.37 L242.10,207.24 L241.62,207.12 L241.13,206.99 L240.65,206.87 L240.17,206.74 L239.68,206.62 L239.20,206.49 L238.72,206.36 L238.23,206.24 L237.75,206.11 L237.27,205.98 L236.79,205.85 L236.30,205.72 L235.82,205.59 L235.34,205.45 L234.86,205.32 L234.38,205.19 L233.90,205.05 L233.42,204.91 L232.95,204.77 L232.47,204.63 L231.99,204.49 L231.51,204.34 L231.04,204.20 L230.56,204.05 L230.09,203.90 L229.61,203.75 L229.14,203.59 L228.66,203.44 L228.19,203.28 L227.72,203.13 L227.24,202.97 L226.77,202.81 L226.29,202.65 L225.82,202.50 L225.35,202.34 L224.87,202.18 L224.40,202.02 L223.92,201.86 L223.45,201.70 L222.97,201.54 L222.50,201.39 L222.02,201.23 L221.54,201.08 L221.07,200.92 L220.59,200.77 L220.11,200.62 L219.63,200.47 L219.15,200.32 L218.67,200.18 L218.19,200.03 L217.71,199.90 L217.22,199.76 L216.74,199.62 L216.25,199.49 L215.77,199.36 L215.28,199.23 L214.79,199.11 L214.31,198.99 L213.82,198.87 L213.33,198.75 L212.84,198.64 L212.35,198.52 L211.86,198.41 L211.37,198.31 L210.88,198.20 L210.39,198.10 L209.90,197.99 L209.41,197.89 L208.92,197.79 L208.42,197.70 L207.93,197.60 L207.44,197.50 L206.95,197.41 L206.46,197.31 L205.96,197.22 L205.47,197.13 L204.98,197.04 L204.49,196.95 L204.00,196.86 L203.50,196.77 L203.01,196.68 L202.52,196.59 L202.03,196.50 L201.53,196.41 L201.04,196.32 L200.55,196.24 L200.05,196.15 L199.56,196.06 L199.07,195.98 L198.58,195.89 L198.08,195.80 L197.59,195.72 L197.10,195.64 L196.60,195.55 L196.11,195.47 L195.62,195.38 L195.12,195.30 L194.63,195.22 L194.14,195.14 L193.64,195.05 L193.15,194.97 L192.66,194.89 L192.16,194.81 L191.67,194.73 L191.17,194.65 L190.68,194.57 L190.19,194.49 L189.69,194.41 L189.20,194.33 L188.70,194.25 L188.21,194.17 L187.72,194.10 L187.22,194.02 L186.73,193.94 L186.23,193.86 L185.74,193.79 L185.24,193.71 L184.75,193.63 L184.26,193.55 L183.76,193.48 L183.27,193.40 L182.77,193.33 L182.28,193.25 L181.78,193.17 L181.29,193.10 L180.80,193.02 L180.30,192.95 L179.81,192.87 L179.31,192.80 L178.82,192.72 L178.32,192.65 L177.83,192.58 L177.33,192.50 L176.84,192.43 L176.34,192.35 L175.85,192.28 L175.35,192.21 L174.86,192.13 L174.37,192.06 L173.87,191.99 L173.38,191.91 L172.88,191.84 L172.39,191.77 L171.89,191.69 L171.40,191.62 L170.90,191.55 L170.41,191.47 L169.91,191.40 L169.42,191.33 L168.92,191.26 L168.43,191.18 L167.93,191.11 L167.44,191.04 L166.94,190.97 L166.45,190.89 L165.95,190.82 L165.46,190.75 L164.96,190.68 L164.47,190.61 L163.97,190.54 L163.48,190.46 L162.99,190.39 L162.49,190.32 L162.00,190.25 L161.50,190.18 L161.01,190.11 L160.51,190.04 L160.02,189.96 L159.52,189.89 L159.03,189.82 L158.53,189.75 L158.03,189.68 L157.54,189.61 L157.04,189.54 L156.55,189.47 L156.05,189.40 L155.56,189.33 L155.06,189.26 L154.57,189.19 L154.07,189.12 L153.58,189.05 L153.08,188.98 L152.59,188.91 L152.09,188.84 L151.60,188.77 L151.10,188.70 L150.61,188.63 L150.11,188.56 L149.62,188.49 L149.12,188.42 L148.63,188.35 L148.13,188.29 L147.64,188.22 L147.14,188.15 L146.65,188.08 L146.15,188.01 L145.65,187.94 L145.16,187.87 L144.66,187.81 L144.17,187.74 L143.67,187.67 L143.18,187.60 L142.68,187.53 L142.19,187.46 L141.69,187.40 L141.20,187.33 L140.70,187.26 L140.20,187.19 L139.71,187.13 L139.21,187.06 L138.72,186.99 L138.22,186.92 L137.73,186.86 L137.23,186.79 L136.74,186.72 L136.24,186.66 L135.74,186.59 L135.25,186.52 L134.75,186.46 L134.26,186.39 L133.76,186.32 L133.27,186.26 L132.77,186.19 L132.28,186.12 L131.78,186.06 L131.28,185.99 L130.79,185.92 L130.29,185.86 L129.80,185.79 L129.30,185.73 L128.81,185.66 L128.31,185.59 L127.81,185.53 L127.32,185.46 L126.82,185.40 L126.33,185.33 L125.83,185.27 L125.33,185.20 L124.84,185.14 L124.34,185.07 L123.85,185.01 L123.35,184.94 L122.86,184.88 L122.36,184.81 L121.86,184.75 L121.37,184.68 L120.87,184.62 L120.38,184.55 L119.88,184.49 L119.38,184.43 L118.89,184.36 L118.39,184.30 L117.90,184.23 L117.40,184.17 L116.90,184.11 L116.41,184.04 L115.91,183.98 L115.42,183.91 L114.92,183.85 L114.42,183.79 L113.93,183.72 L113.43,183.66 L112.94,183.60 L112.44,183.53 L111.94,183.47 L111.45,183.41 L110.95,183.34 L110.46,183.28 L109.96,183.22 L109.46,183.16 L108.97,183.09 L108.47,183.03 L107.98,182.97 L107.48,182.91 L106.98,182.84 L106.49,182.78 L105.99,182.72 L105.49,182.66 L105.00,182.59 L104.50,182.53 L104.01,182.47 L103.51,182.41 L103.01,182.35 L102.52,182.29 L102.02,182.22 L101.52,182.16 L101.03,182.10 L100.53,182.04 L100.04,181.98 L99.54,181.92 L99.04,181.86 L98.55,181.79 L98.05,181.73 L97.55,181.67 L97.06,181.61 L96.56,181.55 L96.07,181.49 L95.57,181.43 L95.07,181.37 L94.58,181.31 L94.08,181.25 L93.58,181.19 L93.09,181.13 L92.59,181.07 L92.09,181.01 L91.60,180.95 L91.10,180.89 L90.60,180.83 L90.11,180.77 L89.61,180.71 L89.11,180.65 L88.62,180.59 L88.12,180.53 L87.63,180.47 L87.13,180.41 L86.63,180.35 L86.14,180.29 L85.64,180.23 L85.14,180.17 L84.65,180.11 L84.15,180.05 L83.65,179.99 L83.16,179.94 L82.66,179.88 L82.16,179.82 L81.67,179.76 L81.17,179.70 L80.67,179.64 L80.18,179.58 L79.68,179.53 L79.18,179.47 L78.69,179.41 L78.19,179.35 L77.69,179.29 L77.20,179.23 L76.70,179.18 L76.20,179.12 L75.71,179.06 L75.21,179.00 L74.71,178.95 L74.22,178.89 L73.72,178.83 L73.22,178.77 L72.73,178.72 L72.23,178.66 L71.73,178.60 L71.24,178.54 L70.74,178.49 L70.24,178.43 L69.75,178.37 L69.25,178.31 L68.75,178.26 L68.25,178.20 L67.76,178.14 L67.26,178.09 L66.76,178.03 L66.27,177.97 L65.77,177.92 L65.27,177.86 L64.78,177.81 L64.28,177.75 L63.78,177.69 L63.29,177.64 L62.79,177.58 L62.29,177.52 L61.80,177.47 L61.30,177.41 L60.80,177.36 L60.30,177.30 L59.81,177.25 L59.31,177.19 L58.81,177.13 L58.32,177.08 L57.82,177.02 L57.32,176.97 L56.83,176.91 L56.33,176.86 L55.83,176.80 L55.33,176.75 L54.84,176.69 L54.34,176.64 L53.84,176.58 L53.35,176.53 L52.85,176.47 L52.35,176.42 L51.86,176.36 L51.36,176.31 L50.86,176.25 L50.36,176.20 L49.87,176.14 L49.37,176.09 L48.87,176.04 L48.38,175.98 L47.88,175.93 L47.38,175.87 L46.88,175.82 L46.39,175.76 L45.89,175.71 L45.39,175.66 L44.90,175.60 L44.40,175.55 L43.90,175.50 L43.40,175.44 L42.91,175.39 L42.41,175.33 L41.91,175.28 L41.42,175.23 L40.92,175.17 L40.42,175.12 L39.92,175.07 L39.43,175.01 L38.93,174.96 L38.43,174.91 L37.94,174.86 L37.44,174.80 L36.94,174.75 L36.44,174.70 L35.95,174.64 L35.45,174.59 L34.95,174.54 L34.45,174.49 L33.96,174.43 L33.46,174.38 L32.96,174.33 L32.47,174.28 L31.97,174.22 L31.47,174.17 L30.97,174.12 L30.48,174.07 L29.98,174.02 L29.48,173.96 L28.98,173.91 L28.49,173.86 L27.99,173.81 L27.49,173.76 L26.99,173.71 L26.50,173.65 L26.00,173.60 L25.50,173.55 L25.00,173.50 L24.51,173.45 L24.01,173.40 L23.51,173.35 L23.01,173.29 L22.52,173.24 L22.02,173.19 L21.52,173.14 L21.03,173.09 L20.53,173.04 L20.03,172.99 L19.53,172.94 L19.04,172.89 L18.54,172.84 L18.04,172.78 L17.54,172.73 L17.05,172.68 L16.55,172.63 L16.05,172.58Z" fill="#e63a44"/>
<path d="M17.5,152.5H383.0" stroke="#000" stroke-width="1" fill="none"/>
<path d="M16.00,151.00 L15.50,151.00 L15.00,151.00 L14.50,151.00 L14.19,152.00 L14.69,152.00 L15.19,152.00 L15.69,152.00 L16.19,152.00 L16.69,152.00 L17.19,152.00 L17.69,152.00 L18.19,152.00 L18.69,152.00 L19.19,152.00 L19.69,152.00 L20.19,152.00 L20.69,152.00 L21.19,152.00 L21.69,152.00 L22.19,152.00 L22.69,152.00 L23.19,152.00 L23.69,152.00 L24.19,152.00 L24.69,152.00 L25.19,152.00 L25.69,152.00 L26.19,152.00 L26.69,152.00 L27.19,152.00 L27.69,152.00 L28.19,152.00 L28.69,152.00 L29.19,152.00 L29.69,152.00 L30.19,152.00 L30.69,152.00 L31.19,152.00 L31.69,152.00 L32.19,152.00 L32.69,152.00 L33.19,152.00 L33.69,152.00 L34.19,152.00 L34.69,152.00 L35.19,152.00 L35.69,152.00 L36.19,152.00 L36.69,152.00 L37.19,152.00 L37.69,152.00 L38.19,152.00 L38.69,152.00 L39.19,152.00 L39.69,152.00 L40.19,152.00 L40.69,152.00 L41.19,152.00 L41.69,152.00 L42.19,152.00 L42.69,152.00 L43.19,152.00 L43.69,152.00 L44.19,152.00 L44.69,152.00 L45.19,152.00 L45.69,152.00 L46.19,152.00 L46.69,152.00 L47.19,152.00 L47.69,152.00 L48.19,152.00 L48.69,152.00 L49.19,152.00 L49.69,152.00 L50.19,152.00 L50.69,152.00 L51.19,152.00 L51.69,152.00 L52.19,152.00 L52.69,152.00 L53.19,152.00 L53.69,152.00 L54.19,152.00 L54.69,152.00 L55.19,152.00 L55.69,152.00 L56.19,152.00 L56.69,152.00 L57.19,152.00 L57.69,152.00 L58.19,152.00 L58.69,152.00 L59.19,152.00 L59.69,152.00 L60.19,152.00 L60.69,152.00 L61.19,152.00 L61.69,152.00 L62.19,152.00 L62.69,152.00 L63.19,152.00 L63.69,152.00 L64.19,152.00 L64.69,152.00 L65.19,152.00 L65.69,152.00 L66.19,152.00 L66.69,152.00 L67.19,152.01 L67.69,152.01 L68.19,152.01 L68.69,152.01 L69.19,152.01 L69.69,152.01 L70.19,152.01 L70.69,152.01 L71.19,152.01 L71.69,152.01 L72.19,152.01 L72.69,152.01 L73.19,152.01 L73.69,152.01 L74.19,152.02 L74.69,152.02 L75.19,152.02 L75.69,152.02 L76.19,152.02 L76.69,152.02 L77.19,152.02 L77.69,152.02 L78.19,152.02 L78.69,152.02 L79.19,152.02 L79.69,152.02 L80.19,152.02 L80.69,152.03 L81.19,152.03 L81.69,152.03 L82.19,152.03 L82.69,152.03 L83.19,152.03 L83.69,152.03 L84.19,152.03 L84.69,152.03 L85.19,152.03 L85.69,152.03 L86.19,152.03 L86.69,152.03 L87.19,152.03 L87.69,152.03 L88.19,152.03 L88.69,152.03 L89.19,152.03 L89.69,152.03 L90.19,152.03 L90.69,152.03 L91.19,152.03 L91.69,152.03 L92.19,152.03 L92.69,152.03 L93.19,152.03 L93.69,152.03 L94.19,152.03 L94.69,152.03 L95.19,152.03 L95.69,152.03 L96.19,152.03 L96.69,152.02 L97.19,152.02 L97.69,152.02 L98.19,152.02 L98.69,152.02 L99.19,152.01 L99.69,152.01 L100.19,152.01 L100.69,152.00 L101.20,152.00 L101.70,151.99 L102.20,151.98 L102.70,151.97 L103.20,151.96 L103.71,151.95 L104.27,151.90 L104.82,151.71 L104.72,151.62 L105.06,151.60 L105.54,151.59 L106.04,151.58 L106.54,151.56 L107.04,151.55 L107.53,151.54 L108.03,151.54 L108.53,151.53 L109.03,151.53 L109.53,151.52 L110.03,151.52 L110.53,151.52 L111.03,151.51 L111.53,151.51 L112.03,151.51 L112.53,151.51 L113.03,151.51 L113.53,151.50 L114.03,151.50 L114.53,151.50 L115.03,151.50 L115.53,151.50 L116.03,151.50 L116.53,151.49 L117.03,151.49 L117.53,151.49 L118.03,151.49 L118.53,151.49 L119.03,151.49 L119.53,151.49 L120.03,151.49 L120.53,151.49 L121.03,151.49 L121.53,151.49 L122.03,151.49 L122.53,151.48 L123.03,151.48 L123.53,151.48 L124.03,151.48 L124.53,151.48 L125.03,151.48 L125.53,151.48 L126.03,151.48 L126.53,151.48 L127.03,151.48 L127.53,151.48 L128.03,151.48 L128.53,151.48 L129.03,151.48 L129.53,151.48 L130.03,151.48 L130.53,151.48 L131.03,151.48 L131.53,151.47 L132.03,151.47 L132.53,151.47 L133.03,151.47 L133.53,151.47 L134.03,151.47 L134.53,151.47 L135.03,151.47 L135.53,151.47 L136.03,151.47 L136.53,151.46 L137.03,151.46 L137.53,151.46 L138.03,151.46 L138.53,151.46 L139.03,151.46 L139.53,151.45 L140.03,151.45 L140.53,151.45 L141.03,151.44 L141.53,151.44 L142.03,151.44 L142.53,151.43 L143.03,151.43 L143.53,151.42 L144.03,151.42 L144.53,151.42 L145.03,151.41 L145.53,151.41 L146.03,151.40 L146.53,151.40 L147.03,151.39 L147.53,151.38 L148.03,151.38 L148.53,151.37 L149.04,151.37 L149.54,151.36 L150.04,151.35 L150.54,151.34 L151.04,151.34 L151.54,151.33 L152.04,151.32 L152.54,151.31 L153.04,151.30 L153.54,151.29 L154.04,151.29 L154.54,151.28 L155.04,151.27 L155.54,151.26 L156.04,151.25 L156.54,151.24 L157.04,151.23 L157.54,151.21 L158.05,151.19 L158.55,151.16 L159.05,151.13 L159.55,151.11 L160.04,151.09 L160.54,151.08 L161.03,151.07 L161.53,151.06 L162.03,151.05 L162.53,151.04 L163.03,151.04 L163.53,151.03 L164.03,151.03 L164.53,151.03 L165.03,151.02 L165.53,151.02 L166.03,151.02 L166.53,151.01 L167.03,151.01 L167.53,151.01 L168.03,151.01 L168.53,151.00 L169.03,151.00 L169.53,151.00 L170.03,151.00 L170.53,150.99 L171.03,150.99 L171.53,150.99 L172.03,150.99 L172.53,150.98 L173.03,150.98 L173.53,150.98 L174.03,150.98 L174.53,150.98 L175.03,150.97 L175.53,150.97 L176.03,150.97 L176.53,150.97 L177.03,150.97 L177.53,150.96 L178.03,150.96 L178.53,150.96 L179.03,150.96 L179.53,150.95 L180.03,150.95 L180.53,150.95 L181.03,150.94 L181.53,150.94 L182.03,150.94 L182.53,150.93 L183.03,150.93 L183.53,150.93 L184.03,150.92 L184.53,150.92 L185.03,150.91 L185.53,150.91 L186.03,150.91 L186.53,150.90 L187.03,150.90 L187.53,150.89 L188.03,150.89 L188.53,150.89 L189.03,150.88 L189.53,150.88 L190.03,150.88 L190.53,150.87 L191.03,150.87 L191.53,150.87 L192.03,150.86 L192.53,150.86 L193.03,150.86 L193.52,150.85 L194.02,150.85 L194.52,150.85 L195.02,150.85 L195.52,150.85 L196.02,150.85 L196.52,150.85 L197.02,150.84 L197.52,150.84 L198.02,150.84 L198.52,150.84 L199.02,150.84 L199.52,150.84 L200.02,150.84 L200.52,150.84 L201.02,150.84 L201.52,150.84 L202.02,150.84 L202.52,150.85 L203.02,150.85 L203.51,150.86 L204.01,150.87 L204.51,150.89 L205.00,150.90 L205.50,150.93 L205.99,150.95 L206.48,150.98 L206.97,151.03 L207.46,151.07 L207.95,151.13 L208.44,151.19 L208.94,151.26 L209.43,151.33 L209.93,151.39 L210.42,151.46 L210.91,151.53 L211.40,151.60 L211.90,151.68 L212.39,151.76 L212.88,151.84 L213.38,151.91 L213.88,151.99 L214.37,152.06 L214.87,152.13 L215.36,152.21 L215.86,152.28 L216.36,152.34 L216.87,152.40 L217.37,152.45 L217.88,152.49 L218.38,152.53 L218.88,152.56 L219.38,152.59 L219.88,152.62 L220.39,152.65 L220.89,152.68 L221.39,152.70 L221.89,152.72 L222.39,152.74 L222.89,152.76 L223.40,152.77 L223.90,152.79 L224.40,152.79 L224.91,152.80 L225.41,152.80 L225.92,152.79 L226.42,152.79 L226.92,152.78 L227.43,152.76 L227.93,152.74 L228.43,152.72 L228.94,152.69 L229.44,152.65 L229.95,152.61 L230.45,152.56 L230.97,152.51 L231.48,152.42 L231.99,152.32 L232.50,152.20 L232.99,152.06 L233.47,151.92 L233.94,151.77 L234.41,151.65 L234.88,151.54 L235.35,151.45 L235.84,151.37 L236.32,151.30 L236.81,151.24 L237.31,151.18 L237.80,151.13 L238.29,151.07 L238.79,151.02 L239.29,150.97 L239.78,150.92 L240.28,150.88 L240.78,150.83 L241.27,150.78 L241.77,150.74 L242.26,150.70 L242.76,150.66 L243.26,150.63 L243.76,150.60 L244.25,150.56 L244.75,150.53 L245.25,150.50 L245.75,150.47 L246.25,150.43 L246.75,150.40 L247.24,150.37 L247.74,150.34 L248.24,150.31 L248.74,150.28 L249.24,150.25 L249.74,150.22 L250.24,150.20 L250.74,150.17 L251.24,150.14 L251.74,150.11 L252.23,150.08 L252.73,150.05 L253.23,150.03 L253.73,150.00 L254.23,149.97 L254.73,149.94 L255.23,149.92 L255.73,149.89 L256.23,149.86 L256.72,149.84 L257.22,149.81 L257.72,149.79 L258.22,149.76 L258.72,149.74 L259.22,149.72 L259.72,149.69 L260.22,149.67 L260.72,149.65 L261.22,149.62 L261.72,149.60 L262.22,149.58 L262.72,149.55 L263.22,149.53 L263.72,149.51 L264.22,149.48 L264.72,149.45 L265.22,149.43 L265.72,149.40 L266.22,149.37 L266.72,149.34 L267.22,149.30 L267.72,149.27 L268.22,149.23 L268.72,149.20 L269.22,149.16 L269.72,149.12 L270.21,149.08 L270.71,149.05 L271.21,149.01 L271.71,148.98 L272.20,148.94 L272.70,148.91 L273.20,148.89 L273.70,148.86 L274.19,148.84 L274.69,148.81 L275.19,148.79 L275.69,148.78 L276.18,148.76 L276.68,148.74 L277.18,148.73 L277.68,148.72 L278.18,148.71 L278.68,148.69 L279.18,148.68 L279.68,148.67 L280.18,148.66 L280.68,148.65 L281.18,148.65 L281.68,148.64 L282.18,148.63 L282.68,148.62 L283.18,148.61 L283.68,148.60 L284.18,148.59 L284.68,148.58 L285.18,148.57 L285.68,148.55 L286.18,148.54 L286.68,148.53 L287.18,148.51 L287.68,148.50 L288.18,148.48 L288.68,148.47 L289.18,148.45 L289.68,148.43 L290.19,148.41 L290.69,148.38 L291.19,148.36 L291.69,148.33 L292.19,148.31 L292.69,148.28 L293.19,148.26 L293.69,148.23 L294.19,148.20 L294.69,148.18 L295.19,148.15 L295.69,148.12 L296.18,148.09 L296.68,148.06 L297.18,148.03 L297.68,148.00 L298.18,147.96 L298.68,147.93 L299.18,147.90 L299.68,147.86 L300.18,147.83 L300.68,147.79 L301.18,147.76 L301.68,147.72 L302.18,147.68 L302.68,147.65 L303.18,147.61 L303.68,147.57 L304.18,147.53 L304.67,147.49 L305.17,147.45 L305.67,147.40 L306.17,147.36 L306.67,147.32 L307.17,147.27 L307.67,147.23 L308.17,147.18 L308.66,147.14 L309.16,147.09 L309.66,147.04 L310.16,147.00 L310.66,146.95 L311.16,146.90 L311.65,146.85 L312.15,146.80 L312.65,146.75 L313.15,146.70 L313.65,146.64 L314.14,146.59 L314.64,146.54 L315.14,146.49 L315.64,146.43 L316.13,146.38 L316.63,146.32 L317.13,146.27 L317.63,146.21 L318.12,146.15 L318.62,146.09 L319.12,146.04 L319.62,145.98 L320.11,145.91 L320.61,145.85 L321.11,145.79 L321.61,145.72 L322.10,145.66 L322.60,145.59 L323.10,145.51 L323.60,145.44 L324.09,145.36 L324.59,145.28 L325.08,145.20 L325.58,145.12 L326.07,145.03 L326.57,144.94 L327.06,144.85 L327.55,144.76 L328.05,144.67 L328.54,144.58 L329.03,144.49 L329.52,144.40 L330.01,144.31 L330.50,144.22 L330.99,144.13 L331.49,144.04 L331.98,143.95 L332.47,143.86 L332.97,143.77 L333.46,143.67 L333.95,143.58 L334.44,143.48 L334.94,143.38 L335.43,143.28 L335.92,143.17 L336.41,143.07 L336.90,142.96 L337.39,142.85 L337.88,142.74 L338.37,142.63 L338.85,142.52 L339.34,142.41 L339.83,142.29 L340.32,142.17 L340.81,142.05 L341.30,141.92 L341.78,141.79 L342.27,141.66 L342.75,141.52 L343.24,141.37 L343.72,141.23 L344.20,141.08 L344.68,140.93 L345.16,140.77 L345.64,140.62 L346.11,140.45 L346.59,140.29 L347.07,140.12 L347.54,139.95 L348.01,139.77 L348.48,139.58 L348.95,139.40 L349.42,139.20 L349.88,139.01 L350.34,138.80 L350.80,138.60 L351.26,138.39 L351.72,138.18 L352.18,137.97 L352.63,137.75 L353.08,137.53 L353.53,137.31 L353.98,137.08 L354.43,136.85 L354.88,136.62 L355.33,136.38 L355.77,136.14 L356.21,135.90 L356.65,135.64 L357.09,135.39 L357.52,135.13 L357.95,134.86 L358.37,134.59 L358.80,134.31 L359.22,134.03 L359.64,133.74 L360.05,133.45 L360.46,133.15 L360.86,132.84 L361.26,132.53 L361.66,132.21 L362.04,131.88 L362.43,131.56 L362.81,131.23 L363.19,130.90 L363.57,130.57 L363.94,130.24 L364.32,129.91 L364.69,129.57 L365.07,129.23 L365.44,128.88 L365.81,128.53 L366.17,128.17 L366.52,127.81 L366.87,127.44 L367.21,127.06 L367.54,126.68 L367.87,126.29 L368.19,125.91 L368.52,125.52 L368.83,125.13 L369.15,124.73 L369.46,124.33 L369.76,123.93 L370.06,123.52 L370.36,123.10 L370.64,122.68 L370.92,122.25 L371.19,121.80 L371.44,121.35 L371.67,120.89 L371.89,120.43 L372.10,119.98 L372.31,119.52 L372.52,119.07 L372.73,118.61 L372.94,118.16 L373.15,117.70 L373.35,117.24 L373.55,116.78 L373.76,116.32 L373.96,115.86 L374.16,115.40 L374.36,114.94 L374.55,114.48 L374.75,114.02 L374.95,113.56 L375.14,113.10 L375.34,112.64 L375.54,112.19 L375.73,111.73 L375.93,111.27 L376.13,110.81 L376.33,110.35 L376.53,109.89 L376.72,109.43 L376.92,108.97 L377.12,108.50 L377.31,108.04 L377.50,107.57 L377.68,107.10 L377.86,106.63 L378.03,106.15 L378.20,105.67 L378.35,105.18 L378.49,104.69 L378.63,104.20 L378.75,103.69 L378.86,103.20 L378.96,102.70 L379.05,102.21 L379.15,101.72 L379.24,101.23 L379.33,100.74 L379.44,100.26 L379.55,99.79 L379.67,99.32 L379.81,98.85 L379.95,98.38 L380.11,97.91 L380.26,97.44 L380.43,96.97 L380.59,96.49 L380.75,96.02 L380.91,95.54 L381.07,95.06 L381.22,94.58 L381.36,94.10 L381.51,93.62 L381.66,93.15 L381.81,92.67 L381.96,92.20 L382.12,91.74 L382.29,91.28 L382.46,90.81 L382.64,90.35 L382.82,89.88 L383.01,89.41 L383.18,88.94 L383.36,88.47 L383.53,88.00 L383.69,87.52 L383.86,87.04 L384.02,86.57 L384.17,86.09 L384.33,85.62 L384.49,85.14 L384.64,84.67 L384.80,84.19 L384.96,83.72 L384.98,83.66 L384.02,83.34 L384.01,83.40 L383.85,83.88 L383.69,84.35 L383.54,84.83 L383.38,85.30 L383.22,85.78 L383.07,86.25 L382.91,86.72 L382.75,87.19 L382.59,87.66 L382.42,88.13 L382.25,88.59 L382.07,89.06 L381.89,89.52 L381.71,89.99 L381.53,90.46 L381.35,90.93 L381.18,91.40 L381.01,91.89 L380.86,92.37 L380.70,92.85 L380.55,93.33 L380.41,93.81 L380.26,94.28 L380.11,94.76 L379.96,95.23 L379.80,95.70 L379.64,96.17 L379.48,96.64 L379.32,97.12 L379.16,97.59 L379.00,98.08 L378.85,98.56 L378.71,99.05 L378.58,99.55 L378.46,100.04 L378.35,100.54 L378.26,101.04 L378.16,101.53 L378.07,102.02 L377.98,102.51 L377.88,102.99 L377.77,103.48 L377.67,103.95 L377.53,104.42 L377.40,104.89 L377.25,105.35 L377.09,105.82 L376.92,106.28 L376.75,106.74 L376.57,107.20 L376.38,107.66 L376.19,108.12 L376.00,108.58 L375.81,109.04 L375.61,109.50 L375.41,109.95 L375.21,110.41 L375.01,110.87 L374.81,111.33 L374.62,111.79 L374.42,112.25 L374.22,112.71 L374.03,113.17 L373.83,113.63 L373.64,114.09 L373.44,114.55 L373.24,115.01 L373.04,115.46 L372.84,115.92 L372.64,116.38 L372.44,116.83 L372.23,117.29 L372.03,117.74 L371.82,118.19 L371.61,118.65 L371.40,119.10 L371.19,119.55 L370.98,120.00 L370.77,120.45 L370.55,120.88 L370.32,121.30 L370.07,121.72 L369.81,122.13 L369.54,122.53 L369.25,122.93 L368.96,123.33 L368.66,123.72 L368.36,124.11 L368.05,124.50 L367.74,124.89 L367.43,125.27 L367.11,125.65 L366.79,126.02 L366.46,126.39 L366.13,126.76 L365.79,127.11 L365.45,127.47 L365.11,127.82 L364.75,128.16 L364.39,128.50 L364.03,128.83 L363.66,129.16 L363.28,129.49 L362.91,129.82 L362.53,130.14 L362.15,130.47 L361.78,130.80 L361.40,131.12 L361.02,131.44 L360.64,131.74 L360.25,132.05 L359.86,132.35 L359.46,132.64 L359.06,132.92 L358.66,133.20 L358.25,133.48 L357.83,133.75 L357.42,134.02 L356.99,134.27 L356.57,134.53 L356.15,134.78 L355.72,135.03 L355.29,135.27 L354.85,135.50 L354.41,135.74 L353.97,135.96 L353.53,136.19 L353.09,136.41 L352.64,136.63 L352.20,136.85 L351.75,137.06 L351.30,137.27 L350.85,137.48 L350.40,137.69 L349.94,137.89 L349.49,138.09 L349.03,138.28 L348.57,138.47 L348.11,138.65 L347.65,138.83 L347.19,139.01 L346.72,139.18 L346.26,139.35 L345.79,139.51 L345.32,139.67 L344.85,139.82 L344.38,139.98 L343.90,140.13 L343.43,140.27 L342.95,140.42 L342.47,140.56 L342.00,140.69 L341.52,140.83 L341.04,140.96 L340.56,141.08 L340.08,141.20 L339.60,141.32 L339.11,141.44 L338.63,141.55 L338.14,141.66 L337.66,141.77 L337.17,141.88 L336.68,141.98 L336.20,142.09 L335.71,142.19 L335.22,142.30 L334.73,142.40 L334.25,142.50 L333.76,142.60 L333.27,142.69 L332.78,142.78 L332.29,142.88 L331.80,142.97 L331.31,143.06 L330.82,143.15 L330.32,143.23 L329.83,143.32 L329.34,143.41 L328.85,143.50 L328.35,143.59 L327.86,143.69 L327.37,143.78 L326.88,143.87 L326.39,143.96 L325.90,144.05 L325.41,144.13 L324.92,144.22 L324.43,144.30 L323.94,144.38 L323.45,144.45 L322.95,144.53 L322.46,144.60 L321.97,144.67 L321.47,144.73 L320.98,144.80 L320.49,144.86 L319.99,144.92 L319.50,144.98 L319.00,145.04 L318.50,145.10 L318.01,145.16 L317.51,145.22 L317.02,145.27 L316.52,145.33 L316.02,145.38 L315.53,145.44 L315.03,145.49 L314.54,145.55 L314.04,145.60 L313.54,145.65 L313.04,145.70 L312.55,145.75 L312.05,145.80 L311.55,145.85 L311.06,145.90 L310.56,145.95 L310.06,146.00 L309.57,146.05 L309.07,146.10 L308.57,146.14 L308.07,146.19 L307.58,146.23 L307.08,146.28 L306.58,146.32 L306.09,146.36 L305.59,146.41 L305.09,146.45 L304.59,146.49 L304.09,146.53 L303.60,146.57 L303.10,146.61 L302.60,146.65 L302.10,146.69 L301.61,146.72 L301.11,146.76 L300.61,146.80 L300.11,146.83 L299.61,146.87 L299.11,146.90 L298.62,146.93 L298.12,146.97 L297.62,147.00 L297.12,147.03 L296.62,147.06 L296.12,147.09 L295.63,147.12 L295.13,147.15 L294.63,147.18 L294.13,147.21 L293.63,147.23 L293.13,147.26 L292.63,147.29 L292.14,147.31 L291.64,147.34 L291.14,147.36 L290.64,147.38 L290.14,147.41 L289.64,147.43 L289.14,147.45 L288.65,147.47 L288.15,147.48 L287.65,147.50 L287.15,147.51 L286.65,147.53 L286.15,147.54 L285.65,147.55 L285.15,147.57 L284.66,147.58 L284.16,147.59 L283.66,147.60 L283.16,147.61 L282.66,147.62 L282.16,147.63 L281.66,147.64 L281.16,147.65 L280.66,147.65 L280.16,147.66 L279.66,147.67 L279.16,147.68 L278.66,147.69 L278.16,147.71 L277.66,147.72 L277.15,147.73 L276.65,147.74 L276.15,147.76 L275.65,147.78 L275.15,147.79 L274.65,147.82 L274.15,147.84 L273.64,147.86 L273.14,147.89 L272.64,147.92 L272.14,147.95 L271.64,147.98 L271.14,148.01 L270.64,148.05 L270.14,148.08 L269.64,148.12 L269.14,148.16 L268.64,148.20 L268.15,148.24 L267.65,148.27 L267.15,148.31 L266.65,148.34 L266.16,148.37 L265.66,148.40 L265.16,148.43 L264.66,148.46 L264.17,148.48 L263.67,148.51 L263.17,148.53 L262.67,148.56 L262.17,148.58 L261.67,148.60 L261.17,148.63 L260.67,148.65 L260.17,148.67 L259.67,148.70 L259.17,148.72 L258.67,148.74 L258.17,148.77 L257.67,148.79 L257.17,148.81 L256.67,148.84 L256.17,148.86 L255.67,148.89 L255.17,148.92 L254.67,148.94 L254.18,148.97 L253.68,149.00 L253.18,149.03 L252.68,149.05 L252.18,149.08 L251.68,149.11 L251.18,149.14 L250.68,149.17 L250.18,149.20 L249.68,149.23 L249.18,149.26 L248.68,149.29 L248.18,149.31 L247.68,149.34 L247.18,149.38 L246.68,149.41 L246.19,149.44 L245.69,149.47 L245.19,149.50 L244.69,149.53 L244.19,149.57 L243.69,149.60 L243.19,149.63 L242.69,149.67 L242.19,149.71 L241.69,149.74 L241.18,149.79 L240.68,149.83 L240.19,149.88 L239.69,149.93 L239.19,149.98 L238.69,150.03 L238.19,150.08 L237.69,150.13 L237.19,150.19 L236.69,150.25 L236.19,150.31 L235.69,150.38 L235.18,150.46 L234.67,150.56 L234.17,150.68 L233.67,150.81 L233.18,150.96 L232.71,151.10 L232.24,151.23 L231.78,151.34 L231.30,151.43 L230.83,151.52 L230.35,151.57 L229.86,151.62 L229.37,151.66 L228.88,151.69 L228.38,151.72 L227.89,151.74 L227.39,151.76 L226.90,151.78 L226.40,151.79 L225.90,151.79 L225.41,151.80 L224.91,151.80 L224.42,151.79 L223.92,151.79 L223.42,151.77 L222.93,151.76 L222.43,151.74 L221.93,151.72 L221.43,151.70 L220.94,151.68 L220.44,151.65 L219.94,151.62 L219.44,151.59 L218.95,151.56 L218.45,151.53 L217.96,151.49 L217.46,151.45 L216.97,151.41 L216.48,151.35 L216.00,151.29 L215.51,151.22 L215.01,151.14 L214.52,151.07 L214.02,151.00 L213.53,150.92 L213.04,150.85 L212.55,150.77 L212.05,150.69 L211.56,150.61 L211.06,150.54 L210.56,150.47 L210.06,150.40 L209.56,150.34 L209.07,150.27 L208.57,150.20 L208.07,150.14 L207.57,150.08 L207.06,150.03 L206.56,149.99 L206.05,149.95 L205.55,149.93 L205.04,149.90 L204.54,149.89 L204.03,149.87 L203.53,149.86 L203.03,149.85 L202.53,149.85 L202.03,149.84 L201.53,149.84 L201.02,149.84 L200.52,149.84 L200.02,149.84 L199.52,149.84 L199.02,149.84 L198.52,149.84 L198.02,149.84 L197.52,149.84 L197.02,149.84 L196.52,149.85 L196.02,149.85 L195.52,149.85 L195.02,149.85 L194.52,149.85 L194.02,149.85 L193.52,149.85 L193.02,149.86 L192.52,149.86 L192.02,149.86 L191.52,149.87 L191.02,149.87 L190.52,149.87 L190.02,149.88 L189.52,149.88 L189.02,149.88 L188.52,149.89 L188.02,149.89 L187.52,149.89 L187.02,149.90 L186.52,149.90 L186.02,149.91 L185.52,149.91 L185.02,149.91 L184.52,149.92 L184.02,149.92 L183.52,149.93 L183.02,149.93 L182.52,149.93 L182.02,149.94 L181.52,149.94 L181.02,149.94 L180.52,149.95 L180.02,149.95 L179.52,149.95 L179.02,149.96 L178.52,149.96 L178.02,149.96 L177.52,149.96 L177.02,149.97 L176.52,149.97 L176.02,149.97 L175.52,149.97 L175.02,149.97 L174.52,149.98 L174.02,149.98 L173.52,149.98 L173.02,149.98 L172.52,149.98 L172.02,149.99 L171.52,149.99 L171.02,149.99 L170.52,149.99 L170.02,150.00 L169.52,150.00 L169.02,150.00 L168.52,150.00 L168.02,150.01 L167.52,150.01 L167.02,150.01 L166.52,150.01 L166.02,150.02 L165.52,150.02 L165.02,150.02 L164.52,150.03 L164.02,150.03 L163.52,150.03 L163.02,150.04 L162.52,150.04 L162.02,150.05 L161.51,150.06 L161.01,150.07 L160.51,150.08 L160.01,150.09 L159.50,150.11 L159.00,150.14 L158.50,150.17 L158.00,150.19 L157.51,150.21 L157.01,150.23 L156.52,150.24 L156.02,150.25 L155.52,150.26 L155.02,150.27 L154.52,150.28 L154.02,150.29 L153.52,150.29 L153.02,150.30 L152.52,150.31 L152.02,150.32 L151.52,150.33 L151.02,150.34 L150.52,150.34 L150.02,150.35 L149.52,150.36 L149.02,150.37 L148.52,150.37 L148.02,150.38 L147.52,150.38 L147.02,150.39 L146.52,150.40 L146.02,150.40 L145.52,150.41 L145.02,150.41 L144.52,150.42 L144.02,150.42 L143.52,150.42 L143.02,150.43 L142.52,150.43 L142.03,150.44 L141.53,150.44 L141.03,150.44 L140.53,150.45 L140.03,150.45 L139.53,150.45 L139.03,150.46 L138.53,150.46 L138.03,150.46 L137.53,150.46 L137.03,150.46 L136.53,150.46 L136.03,150.47 L135.53,150.47 L135.03,150.47 L134.53,150.47 L134.03,150.47 L133.53,150.47 L133.03,150.47 L132.53,150.47 L132.03,150.47 L131.53,150.47 L131.03,150.48 L130.53,150.48 L130.03,150.48 L129.53,150.48 L129.03,150.48 L128.53,150.48 L128.03,150.48 L127.53,150.48 L127.03,150.48 L126.53,150.48 L126.03,150.48 L125.53,150.48 L125.03,150.48 L124.53,150.48 L124.03,150.48 L123.53,150.48 L123.03,150.48 L122.53,150.48 L122.03,150.49 L121.53,150.49 L121.03,150.49 L120.53,150.49 L120.03,150.49 L119.53,150.49 L119.03,150.49 L118.53,150.49 L118.03,150.49 L117.53,150.49 L117.03,150.49 L116.53,150.49 L116.03,150.50 L115.53,150.50 L115.03,150.50 L114.53,150.50 L114.03,150.50 L113.53,150.50 L113.03,150.51 L112.53,150.51 L112.03,150.51 L111.53,150.51 L111.03,150.51 L110.53,150.52 L110.03,150.52 L109.53,150.52 L109.02,150.53 L108.52,150.53 L108.02,150.54 L107.52,150.54 L107.02,150.55 L106.52,150.56 L106.02,150.58 L105.52,150.59 L105.00,150.61 L104.35,150.69 L104.24,150.90 L104.10,150.91 L103.66,150.95 L103.18,150.96 L102.68,150.97 L102.18,150.98 L101.68,150.99 L101.18,151.00 L100.68,151.00 L100.18,151.01 L99.68,151.01 L99.18,151.01 L98.68,151.02 L98.19,151.02 L97.69,151.02 L97.19,151.02 L96.69,151.02 L96.19,151.03 L95.69,151.03 L95.19,151.03 L94.69,151.03 L94.19,151.03 L93.69,151.03 L93.19,151.03 L92.69,151.03 L92.19,151.03 L91.69,151.03 L91.19,151.03 L90.69,151.03 L90.19,151.03 L89.69,151.03 L89.19,151.03 L88.69,151.03 L88.19,151.03 L87.69,151.03 L87.19,151.03 L86.69,151.03 L86.19,151.03 L85.69,151.03 L85.19,151.03 L84.69,151.03 L84.19,151.03 L83.69,151.03 L83.19,151.03 L82.69,151.03 L82.19,151.03 L81.69,151.03 L81.19,151.03 L80.69,151.03 L80.19,151.02 L79.69,151.02 L79.19,151.02 L78.69,151.02 L78.19,151.02 L77.69,151.02 L77.19,151.02 L76.69,151.02 L76.19,151.02 L75.69,151.02 L75.19,151.02 L74.69,151.02 L74.19,151.02 L73.69,151.01 L73.19,151.01 L72.69,151.01 L72.19,151.01 L71.69,151.01 L71.19,151.01 L70.69,151.01 L70.19,151.01 L69.69,151.01 L69.19,151.01 L68.69,151.01 L68.19,151.01 L67.69,151.01 L67.19,151.01 L66.69,151.00 L66.19,151.00 L65.69,151.00 L65.19,151.00 L64.69,151.00 L64.19,151.00 L63.69,151.00 L63.19,151.00 L62.69,151.00 L62.19,151.00 L61.69,151.00 L61.19,151.00 L60.69,151.00 L60.19,151.00 L59.69,151.00 L59.19,151.00 L58.69,151.00 L58.19,151.00 L57.69,151.00 L57.19,151.00 L56.69,151.00 L56.19,151.00 L55.69,151.00 L55.19,151.00 L54.69,151.00 L54.19,151.00 L53.69,151.00 L53.19,151.00 L52.69,151.00 L52.19,151.00 L51.69,151.00 L51.19,151.00 L50.69,151.00 L50.19,151.00 L49.69,151.00 L49.19,151.00 L48.69,151.00 L48.19,151.00 L47.69,151.00 L47.19,151.00 L46.69,151.00 L46.19,151.00 L45.69,151.00 L45.19,151.00 L44.69,151.00 L44.19,151.00 L43.69,151.00 L43.19,151.00 L42.69,151.00 L42.19,151.00 L41.69,151.00 L41.19,151.00 L40.69,151.00 L40.19,151.00 L39.69,151.00 L39.19,151.00 L38.69,151.00 L38.19,151.00 L37.69,151.00 L37.19,151.00 L36.69,151.00 L36.19,151.00 L35.69,151.00 L35.19,151.00 L34.69,151.00 L34.19,151.00 L33.69,151.00 L33.19,151.00 L32.69,151.00 L32.19,151.00 L31.69,151.00 L31.19,151.00 L30.69,151.00 L30.19,151.00 L29.69,151.00 L29.19,151.00 L28.69,151.00 L28.19,151.00 L27.69,151.00 L27.19,151.00 L26.69,151.00 L26.19,151.00 L25.69,151.00 L25.19,151.00 L24.69,151.00 L24.19,151.00 L23.69,151.00 L23.19,151.00 L22.69,151.00 L22.19,151.00 L21.69,151.00 L21.19,151.00 L20.69,151.00 L20.19,151.00 L19.69,151.00 L19.19,151.00 L18.69,151.00 L18.19,151.00 L17.69,151.00 L17.19,151.00 L16.69,151.00 L16.19,151.00 L15.69,151.00 L15.19,151.00 L14.69,151.00 L14.19,151.00 L14.50,152.00 L15.00,152.00 L15.50,152.00 L16.00,152.00Z" fill="#2e2ee0"/>
</g>
<rect x="17.5" y="2.5" width="365.5" height="241.0" fill="none" stroke="#000" stroke-width="1"/>
<path d="M17.5,6.00h5M383.0,6.00h-5M17.5,42.50h5M383.0,42.50h-5M17.5,79.20h5M383.0,79.20h-5M17.5,115.50h5M383.0,115.50h-5M17.5,152.50h5M383.0,152.50h-5M17.5,188.50h5M383.0,188.50h-5M17.5,225.50h5M383.0,225.50h-5M69.71,243.5v-5M69.71,2.5v5M121.93,243.5v-5M121.93,2.5v5M174.14,243.5v-5M174.14,2.5v5M226.36,243.5v-5M226.36,2.5v5M278.57,243.5v-5M278.57,2.5v5M330.79,243.5v-5M330.79,2.5v5" stroke="#000" stroke-width="1" fill="none"/>
<g class="n"><text transform="translate(3.43,9.70) scale(1.0526,1)">4</text><text transform="translate(3.43,46.20) scale(1.0526,1)">3</text><text transform="translate(3.43,82.90) scale(1.0526,1)">2</text><path d="M359,0H271V505H101V568C185,572 248,598 271,703H359Z" transform="translate(3.43,119.20) scale(0.0120,-0.0114)"/><text transform="translate(3.43,156.20) scale(1.0526,1)">0</text><text transform="translate(-0.57,192.20) scale(1.0526,1)">-</text><path d="M359,0H271V505H101V568C185,572 248,598 271,703H359Z" transform="translate(3.43,192.20) scale(0.0120,-0.0114)"/><text transform="translate(-0.57,229.20) scale(1.0526,1)">-</text><text transform="translate(3.43,229.20) scale(1.0526,1)">2</text><text transform="translate(8.83,259.30) scale(1.0526,1)">-</text><text transform="translate(12.83,259.30) scale(1.0526,1)">2</text><text transform="translate(19.50,259.30) scale(1.0526,1)">0</text><text transform="translate(61.34,259.30) scale(1.0526,1)">-</text><path d="M359,0H271V505H101V568C185,572 248,598 271,703H359Z" transform="translate(65.34,259.30) scale(0.0120,-0.0114)"/><text transform="translate(72.01,259.30) scale(1.0526,1)">5</text><text transform="translate(113.26,259.30) scale(1.0526,1)">-</text><path d="M359,0H271V505H101V568C185,572 248,598 271,703H359Z" transform="translate(117.25,259.30) scale(0.0120,-0.0114)"/><text transform="translate(123.93,259.30) scale(1.0526,1)">0</text><text transform="translate(168.81,259.30) scale(1.0526,1)">-</text><text transform="translate(172.80,259.30) scale(1.0526,1)">5</text><text transform="translate(224.52,259.30) scale(1.0526,1)">0</text><text transform="translate(277.04,259.30) scale(1.0526,1)">5</text><path d="M359,0H271V505H101V568C185,572 248,598 271,703H359Z" transform="translate(326.41,259.30) scale(0.0120,-0.0114)"/><text transform="translate(333.09,259.30) scale(1.0526,1)">0</text><path d="M359,0H271V505H101V568C185,572 248,598 271,703H359Z" transform="translate(378.33,259.30) scale(0.0120,-0.0114)"/><text transform="translate(385.00,259.30) scale(1.0526,1)">5</text></g>
<g class="s">
<g fill="#22dd22"><text x="100.36" y="86.9">F</text><text x="110.22" y="86.9">O</text><text x="121.78" y="86.9">M</text><text x="145.47" y="86.9">1</text><text x="154.08" y="86.9">0</text></g>
<path d="M138.4,90.2L144.2,75.1" stroke="#22dd22" stroke-width="0.95" fill="none"/>
<g fill="#2222cc"><text x="244.82" y="141.8">I</text><text x="250.70" y="141.8">m</text><text x="264.71" y="141.8">(</text><text x="271.08" y="141.8" font-style="italic">n</text><text x="279.92" y="141.8">)</text></g>
<g fill="#d83038"><text x="126.73" y="208.9">R</text><text x="138.19" y="208.9">e</text><text x="146.11" y="208.9">(</text><text x="153.18" y="208.9" font-style="italic">n</text><text x="162.12" y="208.9">)</text></g>
<g fill="#000"><text x="181.0" y="276.8" font-style="italic" font-size="16">δ</text><text transform="translate(188.6,279.1) scale(1.15,1)" font-size="10">2</text><text transform="translate(195.2,279.1) scale(1.12,1)" font-size="10">1</text></g>
<path d="M203.4,280.3L208.7,265.2" stroke="#000" stroke-width="0.9" fill="none"/>
<path d="M210.6,272.9C211.3,270.6 212.6,269.4 213.8,269.5C215.2,269.6 215.9,271.2 216.4,274.2M218.6,270.2C217.3,273.4 216.4,276 215.4,279.7" stroke="#000" stroke-width="1.05" fill="none" stroke-linecap="round"/>
</g>
</svg>
</body></html>
